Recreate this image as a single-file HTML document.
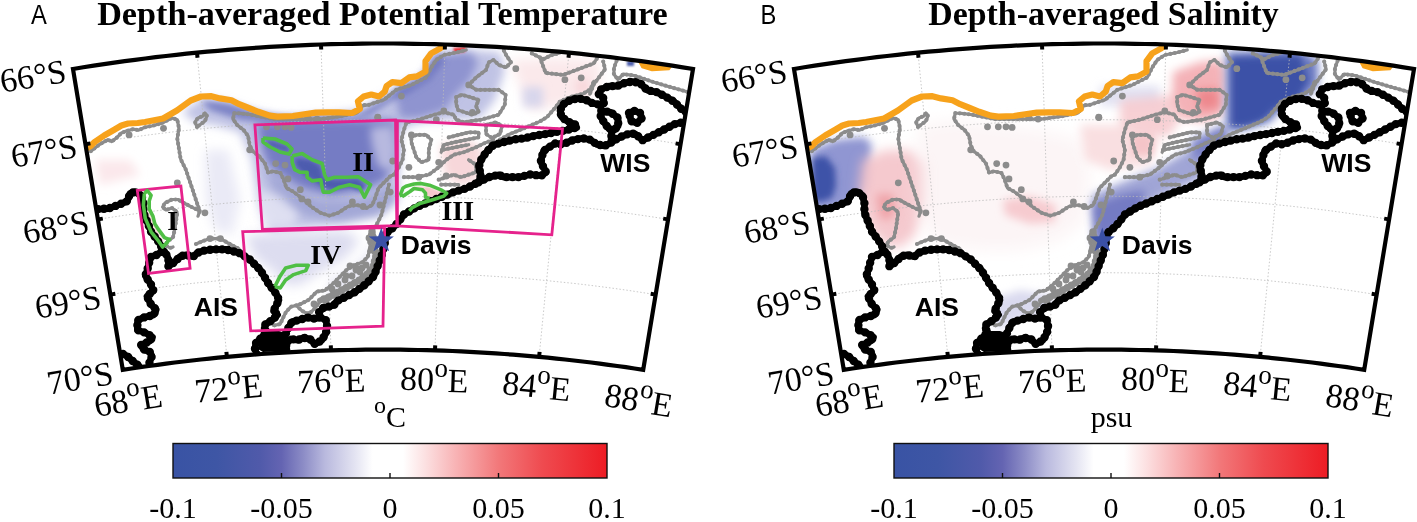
<!DOCTYPE html>
<html><head><meta charset="utf-8"><style>
html,body{margin:0;padding:0;background:#fff;}
svg{display:block;}
.tl{font-family:"Liberation Serif",serif;font-size:34px;fill:#000;}
.sup{font-size:27px;}
.cb{font-family:"Liberation Serif",serif;font-size:30px;fill:#000;}
.unit{font-family:"Liberation Serif",serif;font-size:30px;fill:#000;}
.title{font-family:"Liberation Serif",serif;font-weight:bold;font-size:34px;fill:#000;}
.rn{font-family:"Liberation Serif",serif;font-weight:bold;font-size:28px;fill:#000;}
.nm{font-family:"Liberation Sans",sans-serif;font-weight:bold;font-size:26.5px;fill:#000;}
.plab{font-family:"Liberation Sans",sans-serif;font-size:27px;fill:#000;}
</style></head><body>
<svg width="1417" height="522" viewBox="0 0 1417 522">
<defs><linearGradient id="cbg" x1="0" x2="1" y1="0" y2="0"><stop offset="0" stop-color="rgb(57,83,164)"/><stop offset="0.1" stop-color="rgb(62,86,165)"/><stop offset="0.2" stop-color="rgb(80,90,170)"/><stop offset="0.25" stop-color="rgb(100,100,178)"/><stop offset="0.3" stop-color="rgb(140,140,198)"/><stop offset="0.35" stop-color="rgb(185,185,222)"/><stop offset="0.42" stop-color="rgb(228,228,242)"/><stop offset="0.46" stop-color="#fff"/><stop offset="0.53" stop-color="#fff"/><stop offset="0.58" stop-color="rgb(252,225,226)"/><stop offset="0.65" stop-color="rgb(248,180,182)"/><stop offset="0.75" stop-color="rgb(242,120,122)"/><stop offset="0.85" stop-color="rgb(239,75,80)"/><stop offset="1" stop-color="rgb(237,28,36)"/></linearGradient></defs>
<text class="plab" transform="translate(31 24.4) scale(0.88 1.04)" x="0" y="0">A</text>
<text class="plab" transform="translate(760.6 24.2) scale(0.88 1.04)" x="0" y="0">B</text>
<text class="title" x="97.2" y="25.1" textLength="570.5" lengthAdjust="spacingAndGlyphs">Depth-averaged Potential Temperature</text>
<text class="title" x="928.3" y="25.1" textLength="350.5" lengthAdjust="spacingAndGlyphs">Depth-averaged Salinity</text>
<clipPath id="clipA"><path d="M73.0,69.0 L83.3,67.3 L93.7,65.7 L104.0,64.2 L114.3,62.7 L124.7,61.2 L135.0,59.8 L145.3,58.5 L155.7,57.2 L166.0,56.0 L176.3,54.8 L186.7,53.7 L197.0,52.7 L207.3,51.7 L217.7,50.8 L228.0,49.9 L238.3,49.1 L248.7,48.3 L259.0,47.6 L269.3,46.9 L279.7,46.3 L290.0,45.8 L300.3,45.3 L310.7,44.9 L321.0,44.5 L331.3,44.2 L341.7,44.0 L352.0,43.8 L362.3,43.6 L372.7,43.5 L383.0,43.5 L393.3,43.5 L403.7,43.6 L414.0,43.8 L424.3,44.0 L434.7,44.2 L445.0,44.5 L455.3,44.9 L465.7,45.3 L476.0,45.8 L486.3,46.3 L496.7,46.9 L507.0,47.6 L517.3,48.3 L527.7,49.1 L538.0,49.9 L548.3,50.8 L558.7,51.7 L569.0,52.7 L579.3,53.7 L589.7,54.8 L600.0,56.0 L610.3,57.2 L620.7,58.5 L631.0,59.8 L641.3,61.2 L651.7,62.7 L662.0,64.2 L672.3,65.7 L682.7,67.3 L693.0,69.0 L643.2,369.8 L634.5,368.5 L625.9,367.2 L617.2,366.0 L608.5,364.8 L599.8,363.6 L591.2,362.5 L582.5,361.5 L573.8,360.5 L565.1,359.5 L556.5,358.6 L547.8,357.7 L539.1,356.9 L530.4,356.1 L521.8,355.3 L513.1,354.7 L504.4,354.0 L495.8,353.4 L487.1,352.8 L478.4,352.3 L469.7,351.8 L461.1,351.4 L452.4,351.0 L443.7,350.7 L435.0,350.4 L426.4,350.2 L417.7,350.0 L409.0,349.8 L400.3,349.7 L391.7,349.6 L383.0,349.6 L374.3,349.6 L365.7,349.7 L357.0,349.8 L348.3,350.0 L339.6,350.2 L331.0,350.4 L322.3,350.7 L313.6,351.0 L304.9,351.4 L296.3,351.8 L287.6,352.3 L278.9,352.8 L270.2,353.4 L261.6,354.0 L252.9,354.7 L244.2,355.3 L235.6,356.1 L226.9,356.9 L218.2,357.7 L209.5,358.6 L200.9,359.5 L192.2,360.5 L183.5,361.5 L174.8,362.5 L166.2,363.6 L157.5,364.8 L148.8,366.0 L140.1,367.2 L131.5,368.5 L122.8,369.8 Z"/></clipPath>
<g clip-path="url(#clipA)">
<filter id="blA0" x="-50%" y="-50%" width="200%" height="200%"><feGaussianBlur stdDeviation="5"/></filter>
<path d="M182.0,112.0 L200.0,100.0 L220.0,100.0 L250.0,110.0 L280.0,118.0 L330.0,114.0 L360.0,110.0 L380.0,98.0 L400.0,86.0 L425.0,75.0 L432.0,55.0 L470.0,50.0 L500.0,52.0 L505.0,70.0 L495.0,100.0 L480.0,118.0 L420.0,122.0 L400.0,130.0 L398.0,200.0 L380.0,215.0 L330.0,225.0 L270.0,232.0 L258.0,200.0 L252.0,160.0 L240.0,132.0 L215.0,125.0 L195.0,122.0 Z" fill="rgb(165, 170, 218)" fill-opacity="0.7" filter="url(#blA0)"/>
<filter id="blA1" x="-50%" y="-50%" width="200%" height="200%"><feGaussianBlur stdDeviation="4"/></filter>
<path d="M395.0,90.0 L410.0,84.0 L428.0,74.0 L436.0,58.0 L450.0,53.0 L470.0,52.0 L478.0,62.0 L470.0,80.0 L455.0,95.0 L445.0,110.0 L420.0,118.0 L400.0,118.0 Z" fill="rgb(125, 132, 200)" fill-opacity="0.75" filter="url(#blA1)"/>
<filter id="blA2" x="-50%" y="-50%" width="200%" height="200%"><feGaussianBlur stdDeviation="5"/></filter>
<path d="M256.0,124.0 L300.0,120.0 L350.0,119.0 L395.0,120.0 L396.0,160.0 L385.0,180.0 L365.0,190.0 L330.0,196.0 L300.0,188.0 L280.0,175.0 L268.0,165.0 L262.0,150.0 Z" fill="rgb(105, 112, 190)" fill-opacity="0.85" filter="url(#blA2)"/>
<filter id="blA3" x="-50%" y="-50%" width="200%" height="200%"><feGaussianBlur stdDeviation="5"/></filter>
<path d="M265.0,165.0 L290.0,185.0 L320.0,200.0 L360.0,200.0 L390.0,185.0 L396.0,200.0 L380.0,215.0 L340.0,222.0 L300.0,215.0 L275.0,200.0 Z" fill="rgb(150, 155, 208)" fill-opacity="0.7" filter="url(#blA3)"/>
<filter id="blA4" x="-50%" y="-50%" width="200%" height="200%"><feGaussianBlur stdDeviation="3"/></filter>
<path d="M200.0,100.0 L230.0,103.0 L260.0,113.0 L300.0,117.0 L350.0,117.0 L365.0,110.0 L385.0,98.0 L400.0,88.0 L420.0,78.0 L430.0,62.0 L440.0,52.0 L445.0,60.0 L430.0,80.0 L410.0,92.0 L390.0,102.0 L370.0,115.0 L330.0,122.0 L280.0,124.0 L240.0,120.0 L210.0,110.0 Z" fill="rgb(95, 105, 185)" fill-opacity="0.7" filter="url(#blA4)"/>
<filter id="blA5" x="-50%" y="-50%" width="200%" height="200%"><feGaussianBlur stdDeviation="4"/></filter>
<path d="M370.0,128.0 L392.0,125.0 L396.0,150.0 L392.0,172.0 L378.0,166.0 L372.0,145.0 Z" fill="rgb(205, 205, 232)" fill-opacity="0.75" filter="url(#blA5)"/>
<filter id="blA6" x="-50%" y="-50%" width="200%" height="200%"><feGaussianBlur stdDeviation="5"/></filter>
<path d="M256.0,190.0 L280.0,195.0 L300.0,215.0 L290.0,228.0 L262.0,228.0 Z" fill="rgb(235, 235, 246)" fill-opacity="0.7" filter="url(#blA6)"/>
<filter id="blA7" x="-50%" y="-50%" width="200%" height="200%"><feGaussianBlur stdDeviation="2"/></filter>
<path d="M266.0,140.0 L288.0,147.0 L289.0,152.0 L270.0,146.0 Z" fill="rgb(70, 85, 170)" fill-opacity="0.9" filter="url(#blA7)"/>
<filter id="blA8" x="-50%" y="-50%" width="200%" height="200%"><feGaussianBlur stdDeviation="2"/></filter>
<path d="M295.0,158.0 L310.0,160.0 L320.0,166.0 L323.0,178.0 L335.0,180.0 L358.0,179.0 L366.0,186.0 L362.0,192.0 L350.0,187.0 L330.0,190.0 L320.0,185.0 L305.0,175.0 L296.0,166.0 Z" fill="rgb(70, 85, 170)" fill-opacity="0.85" filter="url(#blA8)"/>
<filter id="blA9" x="-50%" y="-50%" width="200%" height="200%"><feGaussianBlur stdDeviation="6"/></filter>
<path d="M245.0,235.0 L300.0,232.0 L345.0,231.0 L360.0,240.0 L345.0,258.0 L320.0,272.0 L300.0,285.0 L285.0,285.0 L272.0,270.0 L255.0,258.0 Z" fill="rgb(212, 212, 236)" fill-opacity="0.8" filter="url(#blA9)"/>
<filter id="blA10" x="-50%" y="-50%" width="200%" height="200%"><feGaussianBlur stdDeviation="4"/></filter>
<path d="M330.0,280.0 L350.0,268.0 L365.0,255.0 L370.0,240.0 L372.0,262.0 L360.0,280.0 L340.0,292.0 L325.0,298.0 Z" fill="rgb(225, 225, 242)" fill-opacity="0.7" filter="url(#blA10)"/>
<filter id="blA11" x="-50%" y="-50%" width="200%" height="200%"><feGaussianBlur stdDeviation="6"/></filter>
<path d="M205.0,150.0 L228.0,150.0 L240.0,200.0 L232.0,235.0 L215.0,230.0 L206.0,200.0 Z" fill="rgb(220, 220, 240)" fill-opacity="0.6" filter="url(#blA11)"/>
<filter id="blA12" x="-50%" y="-50%" width="200%" height="200%"><feGaussianBlur stdDeviation="1.5"/></filter>
<path d="M147.0,200.0 L150.0,212.0 L155.0,226.0 L162.0,238.0 L164.0,243.0 L160.0,240.0 L152.0,228.0 L147.0,215.0 Z" fill="rgb(246, 200, 205)" fill-opacity="0.9" filter="url(#blA12)"/>
<filter id="blA13" x="-50%" y="-50%" width="200%" height="200%"><feGaussianBlur stdDeviation="5"/></filter>
<path d="M95.0,160.0 L130.0,160.0 L140.0,175.0 L100.0,185.0 Z" fill="rgb(250, 222, 226)" fill-opacity="0.7" filter="url(#blA13)"/>
<filter id="blA14" x="-50%" y="-50%" width="200%" height="200%"><feGaussianBlur stdDeviation="4"/></filter>
<path d="M440.0,145.0 L470.0,140.0 L482.0,150.0 L478.0,180.0 L460.0,185.0 L445.0,175.0 Z" fill="rgb(246, 208, 212)" fill-opacity="0.85" filter="url(#blA14)"/>
<filter id="blA15" x="-50%" y="-50%" width="200%" height="200%"><feGaussianBlur stdDeviation="1"/></filter>
<path d="M414.0,186.5 L429.5,187.0 L443.9,193.2 L435.0,197.5 L427.0,198.0 L425.5,193.2 L422.6,189.8 L414.0,189.2 Z" fill="rgb(246, 196, 202)" fill-opacity="0.95" filter="url(#blA15)"/>
<filter id="blA16" x="-50%" y="-50%" width="200%" height="200%"><feGaussianBlur stdDeviation="6"/></filter>
<path d="M510.0,60.0 L560.0,58.0 L600.0,60.0 L600.0,85.0 L565.0,105.0 L530.0,110.0 L520.0,85.0 Z" fill="rgb(250, 228, 230)" fill-opacity="0.8" filter="url(#blA16)"/>
<filter id="blA17" x="-50%" y="-50%" width="200%" height="200%"><feGaussianBlur stdDeviation="4"/></filter>
<path d="M523.0,87.0 L543.0,87.0 L543.0,107.0 L523.0,107.0 Z" fill="rgb(212, 212, 236)" fill-opacity="0.9" filter="url(#blA17)"/>
<filter id="blA18" x="-50%" y="-50%" width="200%" height="200%"><feGaussianBlur stdDeviation="4"/></filter>
<path d="M576.0,80.0 L590.0,80.0 L590.0,95.0 L576.0,95.0 Z" fill="rgb(246, 205, 210)" fill-opacity="0.7" filter="url(#blA18)"/>
<filter id="blA19" x="-50%" y="-50%" width="200%" height="200%"><feGaussianBlur stdDeviation="1.2"/></filter>
<path d="M627.0,61.0 L634.0,61.0 L634.0,66.0 L627.0,66.0 Z" fill="rgb(58, 80, 165)" fill-opacity="0.9" filter="url(#blA19)"/>
<filter id="blA20" x="-50%" y="-50%" width="200%" height="200%"><feGaussianBlur stdDeviation="1.2"/></filter>
<path d="M453.0,48.0 L466.0,47.0 L465.0,52.0 L455.0,53.0 Z" fill="rgb(237, 40, 45)" fill-opacity="0.95" filter="url(#blA20)"/>
<path d="M386.4,233.0 L392.2,228.4 L398.0,222.6 L403.9,214.6 L416.3,207.1 L428.8,202.1 L441.2,197.1 L453.7,192.1 L466.1,188.4 L478.6,182.2 L481.1,174.7 L478.6,167.3 L481.1,159.8 L486.1,152.3 L493.5,144.9 L503.5,142.2 L514.2,139.5 L524.9,138.2 L535.7,135.5 L547.7,133.7 L555.3,132.1 L564.5,130.6 L570.7,129.1 L576.8,127.5 L575.3,124.5 L567.6,121.4 L561.5,116.8 L560.0,110.7 L563.0,104.5 L570.7,99.9 L578.3,98.4 L586.0,99.9 L592.1,103.0 L598.3,104.5 L604.4,103.0 L602.9,96.9 L598.3,93.8 L601.3,89.2 L609.0,86.1 L616.7,86.1 L624.4,83.1 L632.0,81.5 L640.0,83.1 L647.3,90.2 L656.9,92.2 L664.5,96.0 L674.1,101.7 L681.8,109.4 L692.0,113.0 L705.0,113.0 L705.0,400.0 L285.0,400.0 L285.0,360.0 L284.3,348.3 L283.0,344.3 L284.3,337.6 L287.0,330.8 L289.6,325.5 L292.3,321.5 L299.0,320.1 L307.0,317.4 L315.1,318.8 L320.5,317.4 L319.1,312.1 L323.2,308.0 L333.9,305.4 L336.5,301.4 L347.2,296.0 L355.2,292.0 L366.0,284.0 L374.0,276.0 L378.0,265.2 L382.0,254.5 L384.7,243.8 Z M162.6,251.0 L164.5,251.0 L168.4,258.6 L168.4,266.3 L174.1,262.5 L179.9,256.7 L185.6,254.8 L193.3,256.7 L197.1,252.9 L204.5,250.5 L212.6,249.4 L226.0,249.4 L239.0,252.8 L249.7,259.5 L260.5,270.2 L268.5,283.7 L276.6,294.4 L279.0,300.0 L275.0,308.0 L273.5,311.0 L277.6,314.8 L272.2,320.1 L265.5,324.1 L264.1,328.2 L266.8,332.2 L261.5,337.6 L256.1,342.9 L254.8,348.3 L258.0,380.0 L140.0,380.0 L148.8,370.0 L149.5,362.0 L152.0,356.0 L150.0,352.0 L143.0,349.0 L141.0,345.0 L150.0,341.0 L152.5,337.0 L146.0,333.0 L137.3,330.0 L137.5,320.4 L142.9,317.7 L153.6,315.0 L156.3,309.7 L150.9,304.3 L146.9,296.3 L153.6,290.9 L150.9,284.2 L145.3,275.9 L147.3,270.1 L149.2,262.5 L151.1,256.7 L156.9,254.8 Z M80.0,209.5 L98.8,209.1 L108.0,208.6 L119.5,204.5 L127.5,201.0 L130.0,193.4 L135.8,191.5 L141.5,195.3 L143.4,203.0 L143.4,212.6 L147.3,222.2 L151.1,231.8 L156.9,239.5 L160.7,245.2 L162.6,251.0 L156.9,254.8 L151.1,256.7 L149.2,262.5 L147.3,270.1 L145.3,275.9 L150.9,284.2 L153.6,290.9 L146.9,296.3 L150.9,304.3 L156.3,309.7 L153.6,315.0 L142.9,317.7 L137.5,320.4 L137.3,330.0 L146.0,333.0 L152.5,337.0 L150.0,341.0 L141.0,345.0 L143.0,349.0 L150.0,352.0 L152.0,356.0 L149.5,362.0 L148.8,370.0 L140.0,390.0 L80.0,390.0 Z" fill="#fff"/>
</g>
<g clip-path="url(#clipA)">
<path d="M197.0,52.7 L226.9,356.9 M321.0,44.5 L331.0,350.4 M445.0,44.5 L435.0,350.4 M569.0,52.7 L539.1,356.9 M85.5,144.2 L100.3,141.8 L115.2,139.5 L130.1,137.4 L145.0,135.4 L159.8,133.5 L174.7,131.7 L189.6,130.1 L204.5,128.5 L219.3,127.1 L234.2,125.8 L249.1,124.7 L264.0,123.6 L278.9,122.7 L293.7,121.9 L308.6,121.2 L323.5,120.7 L338.4,120.3 L353.2,119.9 L368.1,119.8 L383.0,119.7 L397.9,119.8 L412.8,119.9 L427.6,120.3 L442.5,120.7 L457.4,121.2 L472.3,121.9 L487.1,122.7 L502.0,123.6 L516.9,124.7 L531.8,125.8 L546.7,127.1 L561.5,128.5 L576.4,130.1 L591.3,131.7 L606.2,133.5 L621.0,135.4 L635.9,137.4 L650.8,139.5 L665.7,141.8 L680.5,144.2 M97.9,219.4 L112.2,217.1 L126.4,215.0 L140.7,213.0 L154.9,211.0 L169.2,209.2 L183.4,207.6 L197.7,206.0 L211.9,204.6 L226.2,203.2 L240.5,202.0 L254.7,200.9 L269.0,199.9 L283.2,199.0 L297.5,198.3 L311.7,197.6 L326.0,197.1 L340.2,196.7 L354.5,196.4 L368.7,196.3 L383.0,196.2 L397.3,196.3 L411.5,196.4 L425.8,196.7 L440.0,197.1 L454.3,197.6 L468.5,198.3 L482.8,199.0 L497.0,199.9 L511.3,200.9 L525.6,202.0 L539.8,203.2 L554.1,204.6 L568.3,206.0 L582.6,207.6 L596.8,209.2 L611.1,211.0 L625.3,213.0 L639.6,215.0 L653.8,217.1 L668.1,219.4 M110.3,294.6 L124.0,292.5 L137.6,290.4 L151.2,288.5 L164.9,286.7 L178.5,285.0 L192.1,283.4 L205.8,282.0 L219.4,280.6 L233.0,279.3 L246.7,278.2 L260.3,277.1 L273.9,276.2 L287.6,275.4 L301.2,274.7 L314.8,274.1 L328.5,273.6 L342.1,273.2 L355.7,272.9 L369.4,272.8 L383.0,272.7 L396.6,272.8 L410.3,272.9 L423.9,273.2 L437.5,273.6 L451.2,274.1 L464.8,274.7 L478.4,275.4 L492.1,276.2 L505.7,277.1 L519.3,278.2 L533.0,279.3 L546.6,280.6 L560.2,282.0 L573.9,283.4 L587.5,285.0 L601.1,286.7 L614.8,288.5 L628.4,290.4 L642.0,292.5 L655.6,294.6" fill="none" stroke="#bbb" stroke-width="0.8" stroke-dasharray="1.5,2"/>
<path d="M90.8,151.2 L99.4,144.5 L108.0,139.7 L111.8,141.6 L116.6,137.8 L121.4,133.0 L126.2,131.1 L133.0,129.2 L138.7,130.1 L145.0,127.3 L152.8,125.7 L161.8,123.1 L168.0,120.0 L172.1,117.9 L177.3,119.7 L179.0,128.3 L177.3,138.6 L179.0,149.0 L180.7,159.3 L185.9,169.7 L189.3,180.0 L192.8,190.3 L196.2,200.7 L199.7,211.0 L198.0,216.2 M199.7,211.0 L192.8,207.6 L184.0,203.0 L178.0,199.5 L172.0,199.5 L165.0,203.0 L162.6,207.0 L166.0,210.0 L172.0,208.0 L177.0,212.0 L177.0,214.5 L175.0,228.0 L173.0,237.5 L167.4,241.4 L165.4,245.2 L170.0,248.0 L173.0,247.0 M196.0,244.0 L203.0,241.0 L210.0,238.6 L220.4,238.6 L228.0,243.0 L239.0,249.0 M234.3,113.0 L243.0,113.7 L249.7,114.5 L274.2,119.1 L295.7,119.1 L320.2,119.1 L341.7,116.1 L357.0,113.0 L363.1,105.3 L369.0,104.8 L384.0,99.8 L396.4,89.8 L411.4,84.9 L426.3,77.4 L431.3,67.4 L436.3,59.9 L443.8,55.0 L456.2,52.5 L466.2,50.0 M234.3,113.0 L233.0,119.1 L237.4,125.3 L243.5,129.9 L248.1,136.0 L249.7,145.2 L252.7,151.3 L258.9,155.9 L265.0,163.6 L268.1,172.8 L272.7,171.3 L280.3,172.8 L283.4,178.9 L286.5,188.1 L292.6,191.2 L298.7,195.8 L304.9,200.4 L311.0,206.5 L320.2,212.7 L329.4,215.7 L338.6,212.7 L347.8,206.5 L357.0,205.0 L366.2,208.1 L372.3,205.0 L375.4,197.3 L378.5,188.1 L384.6,182.0 L390.7,175.9 L393.9,174.7 L398.9,167.3 L402.6,159.8 L403.9,149.8 L401.4,139.9 L403.9,129.9 L406.4,122.4 L418.8,119.7 L433.8,114.8 L443.8,112.3 L453.7,114.8 L456.2,119.7 L463.7,122.2 L481.1,119.7 L498.6,114.8 L504.8,104.8 L505.6,94.8 L498.6,89.8 L486.1,89.8 L476.2,89.8 L468.7,84.9 L476.2,77.4 L486.1,69.9 L488.6,62.4 L493.6,59.9 L498.6,64.9 L506.1,67.4 L511.0,62.4 L506.1,55.0 L503.6,50.0 M388.9,184.7 L386.5,194.6 L384.0,204.6 L381.5,214.6 L378.0,222.0 L373.2,230.0 L367.8,238.0 L370.5,246.1 L367.8,256.8 L362.4,262.2 L354.4,264.9 L346.3,270.2 L338.3,278.3 L332.9,283.7 L324.9,290.4 L316.8,291.7 L308.8,299.8 L300.7,304.0 L296.3,305.4 L291.0,306.7 L286.0,312.0 L283.0,318.0 L280.2,324.1 L273.5,325.5 M296.3,305.4 L301.7,310.7 L307.0,313.4 L311.1,312.1 L315.1,308.0 L319.1,302.7 M456.2,97.0 L462.0,94.8 L470.0,97.0 L478.7,100.0 L476.0,106.0 L478.7,112.0 L472.0,114.8 L464.0,112.0 L458.0,110.0 L456.2,104.0 L456.2,97.0 M411.4,137.4 L416.3,134.9 L426.3,134.9 L431.3,139.9 L428.8,149.8 L428.8,159.8 L421.3,162.3 L416.3,157.3 L413.8,149.8 L411.4,142.4 L411.4,137.4 M403.9,177.2 L416.3,177.2 L428.8,174.7 L438.7,167.3 L446.2,159.8 L453.7,154.8 L463.6,152.3 L476.1,147.3 L486.1,142.4 L493.5,139.9 M448.7,137.4 L458.7,134.9 L468.6,132.4 L478.6,132.4 L478.6,137.4 L466.1,139.9 L453.7,142.4 L443.7,144.9 L441.2,152.3 M438.7,179.7 L446.2,177.2 L453.7,174.7 L461.2,177.2 L468.6,174.7 L476.1,172.2 L476.1,164.8 L468.6,159.8 M441.2,184.7 L451.2,184.7 L458.7,184.7 M486.1,124.9 L496.0,122.4 L502.0,126.0 L500.0,134.0 L492.0,138.0 L486.0,134.0 L486.1,124.9 M443.8,149.6 L456.2,147.1 L468.7,144.7 M197.0,127.0 L195.0,122.0 L198.0,118.0 L203.0,116.0 L205.0,113.0 L207.0,116.0 L205.0,121.0 L201.0,124.0 L197.0,127.0 M531.8,53.4 L543.3,59.2 L551.0,55.3 L560.0,53.0 M540.0,57.7 L545.7,73.0 L563.0,74.9 L578.3,69.2 L593.7,63.4 L597.5,57.7 M603.2,61.5 L605.1,69.2 L599.4,76.8 L593.7,84.5 L589.8,94.1 M616.6,60.8 L614.0,68.0 L613.9,74.2 L617.9,79.5 L623.3,74.2 L634.0,75.5 L654.0,82.2 L670.0,87.0 L688.0,92.0 M500.0,139.7 L510.0,134.0 L524.2,128.2 L540.0,121.4 L547.1,117.0 L555.3,107.6 L560.0,101.5 L570.7,96.9 L583.0,93.8 L590.6,89.2 L593.7,81.5" fill="none" stroke="#8c8c8c" stroke-width="3.2" stroke-linejoin="round" stroke-linecap="round"/>
<path d="M90.8,151.2 L99.4,144.5 L108.0,139.7 L111.8,141.6 L116.6,137.8 L121.4,133.0 L126.2,131.1 L133.0,129.2 L138.7,130.1 L145.0,127.3 L152.8,125.7 L161.8,123.1 L168.0,120.0 L172.1,117.9 L177.3,119.7 L179.0,128.3 L177.3,138.6 L179.0,149.0 L180.7,159.3 L185.9,169.7 L189.3,180.0 L192.8,190.3 L196.2,200.7 L199.7,211.0 L198.0,216.2 M199.7,211.0 L192.8,207.6 L184.0,203.0 L178.0,199.5 L172.0,199.5 L165.0,203.0 L162.6,207.0 L166.0,210.0 L172.0,208.0 L177.0,212.0 L177.0,214.5 L175.0,228.0 L173.0,237.5 L167.4,241.4 L165.4,245.2 L170.0,248.0 L173.0,247.0 M196.0,244.0 L203.0,241.0 L210.0,238.6 L220.4,238.6 L228.0,243.0 L239.0,249.0 M234.3,113.0 L243.0,113.7 L249.7,114.5 L274.2,119.1 L295.7,119.1 L320.2,119.1 L341.7,116.1 L357.0,113.0 L363.1,105.3 L369.0,104.8 L384.0,99.8 L396.4,89.8 L411.4,84.9 L426.3,77.4 L431.3,67.4 L436.3,59.9 L443.8,55.0 L456.2,52.5 L466.2,50.0 M234.3,113.0 L233.0,119.1 L237.4,125.3 L243.5,129.9 L248.1,136.0 L249.7,145.2 L252.7,151.3 L258.9,155.9 L265.0,163.6 L268.1,172.8 L272.7,171.3 L280.3,172.8 L283.4,178.9 L286.5,188.1 L292.6,191.2 L298.7,195.8 L304.9,200.4 L311.0,206.5 L320.2,212.7 L329.4,215.7 L338.6,212.7 L347.8,206.5 L357.0,205.0 L366.2,208.1 L372.3,205.0 L375.4,197.3 L378.5,188.1 L384.6,182.0 L390.7,175.9 L393.9,174.7 L398.9,167.3 L402.6,159.8 L403.9,149.8 L401.4,139.9 L403.9,129.9 L406.4,122.4 L418.8,119.7 L433.8,114.8 L443.8,112.3 L453.7,114.8 L456.2,119.7 L463.7,122.2 L481.1,119.7 L498.6,114.8 L504.8,104.8 L505.6,94.8 L498.6,89.8 L486.1,89.8 L476.2,89.8 L468.7,84.9 L476.2,77.4 L486.1,69.9 L488.6,62.4 L493.6,59.9 L498.6,64.9 L506.1,67.4 L511.0,62.4 L506.1,55.0 L503.6,50.0 M388.9,184.7 L386.5,194.6 L384.0,204.6 L381.5,214.6 L378.0,222.0 L373.2,230.0 L367.8,238.0 L370.5,246.1 L367.8,256.8 L362.4,262.2 L354.4,264.9 L346.3,270.2 L338.3,278.3 L332.9,283.7 L324.9,290.4 L316.8,291.7 L308.8,299.8 L300.7,304.0 L296.3,305.4 L291.0,306.7 L286.0,312.0 L283.0,318.0 L280.2,324.1 L273.5,325.5 M296.3,305.4 L301.7,310.7 L307.0,313.4 L311.1,312.1 L315.1,308.0 L319.1,302.7 M456.2,97.0 L462.0,94.8 L470.0,97.0 L478.7,100.0 L476.0,106.0 L478.7,112.0 L472.0,114.8 L464.0,112.0 L458.0,110.0 L456.2,104.0 L456.2,97.0 M411.4,137.4 L416.3,134.9 L426.3,134.9 L431.3,139.9 L428.8,149.8 L428.8,159.8 L421.3,162.3 L416.3,157.3 L413.8,149.8 L411.4,142.4 L411.4,137.4 M403.9,177.2 L416.3,177.2 L428.8,174.7 L438.7,167.3 L446.2,159.8 L453.7,154.8 L463.6,152.3 L476.1,147.3 L486.1,142.4 L493.5,139.9 M448.7,137.4 L458.7,134.9 L468.6,132.4 L478.6,132.4 L478.6,137.4 L466.1,139.9 L453.7,142.4 L443.7,144.9 L441.2,152.3 M438.7,179.7 L446.2,177.2 L453.7,174.7 L461.2,177.2 L468.6,174.7 L476.1,172.2 L476.1,164.8 L468.6,159.8 M441.2,184.7 L451.2,184.7 L458.7,184.7 M486.1,124.9 L496.0,122.4 L502.0,126.0 L500.0,134.0 L492.0,138.0 L486.0,134.0 L486.1,124.9 M443.8,149.6 L456.2,147.1 L468.7,144.7 M197.0,127.0 L195.0,122.0 L198.0,118.0 L203.0,116.0 L205.0,113.0 L207.0,116.0 L205.0,121.0 L201.0,124.0 L197.0,127.0 M531.8,53.4 L543.3,59.2 L551.0,55.3 L560.0,53.0 M540.0,57.7 L545.7,73.0 L563.0,74.9 L578.3,69.2 L593.7,63.4 L597.5,57.7 M603.2,61.5 L605.1,69.2 L599.4,76.8 L593.7,84.5 L589.8,94.1 M616.6,60.8 L614.0,68.0 L613.9,74.2 L617.9,79.5 L623.3,74.2 L634.0,75.5 L654.0,82.2 L670.0,87.0 L688.0,92.0 M500.0,139.7 L510.0,134.0 L524.2,128.2 L540.0,121.4 L547.1,117.0 L555.3,107.6 L560.0,101.5 L570.7,96.9 L583.0,93.8 L590.6,89.2 L593.7,81.5" fill="none" stroke="#8c8c8c" stroke-width="4.2" stroke-dasharray="0 4.5" stroke-linecap="round"/>
<path d="M372.0,232.0 L374.5,245.0 L376.0,256.0 L373.0,267.0 L366.0,275.5 L358.0,281.0 L350.0,285.5 L342.0,290.0 L335.0,294.0 L328.0,297.5 L320.0,300.5" fill="none" stroke="#8c8c8c" stroke-width="6" stroke-linejoin="round" stroke-linecap="round"/>
<path d="M372.0,232.0 L374.5,245.0 L376.0,256.0 L373.0,267.0 L366.0,275.5 L358.0,281.0 L350.0,285.5 L342.0,290.0 L335.0,294.0 L328.0,297.5 L320.0,300.5" fill="none" stroke="#8c8c8c" stroke-width="7.5" stroke-dasharray="0 5" stroke-linecap="round"/>
<circle cx="129.1" cy="134.9" r="3.4" fill="#8c8c8c"/>
<circle cx="163.5" cy="128.3" r="3.4" fill="#8c8c8c"/>
<circle cx="177.3" cy="182.8" r="3.4" fill="#8c8c8c"/>
<circle cx="266.5" cy="126.8" r="3.4" fill="#8c8c8c"/>
<circle cx="277.3" cy="126.8" r="3.4" fill="#8c8c8c"/>
<circle cx="285" cy="126.8" r="3.4" fill="#8c8c8c"/>
<circle cx="291.1" cy="127.4" r="3.4" fill="#8c8c8c"/>
<circle cx="308" cy="117.6" r="3.4" fill="#8c8c8c"/>
<circle cx="317.1" cy="119.1" r="3.4" fill="#8c8c8c"/>
<circle cx="377.9" cy="117.6" r="3.4" fill="#8c8c8c"/>
<circle cx="249.7" cy="149.8" r="3.4" fill="#8c8c8c"/>
<circle cx="275.7" cy="163.6" r="3.4" fill="#8c8c8c"/>
<circle cx="285" cy="165.1" r="3.4" fill="#8c8c8c"/>
<circle cx="288" cy="178.9" r="3.4" fill="#8c8c8c"/>
<circle cx="300.3" cy="189.7" r="3.4" fill="#8c8c8c"/>
<circle cx="301.8" cy="198.9" r="3.4" fill="#8c8c8c"/>
<circle cx="308" cy="201.9" r="3.4" fill="#8c8c8c"/>
<circle cx="352.4" cy="201.9" r="3.4" fill="#8c8c8c"/>
<circle cx="363.1" cy="206.5" r="3.4" fill="#8c8c8c"/>
<circle cx="380" cy="205" r="3.4" fill="#8c8c8c"/>
<circle cx="401.4" cy="96.1" r="3.4" fill="#8c8c8c"/>
<circle cx="377.7" cy="117.2" r="3.4" fill="#8c8c8c"/>
<circle cx="436.3" cy="119.7" r="3.4" fill="#8c8c8c"/>
<circle cx="443.8" cy="111" r="3.4" fill="#8c8c8c"/>
<circle cx="472.4" cy="112.3" r="3.4" fill="#8c8c8c"/>
<circle cx="515.8" cy="68.7" r="3.4" fill="#8c8c8c"/>
<circle cx="468.7" cy="84.9" r="3.4" fill="#8c8c8c"/>
<circle cx="411.4" cy="134.9" r="3.4" fill="#8c8c8c"/>
<circle cx="408.9" cy="167.3" r="3.4" fill="#8c8c8c"/>
<circle cx="438.7" cy="162.3" r="3.4" fill="#8c8c8c"/>
<circle cx="446.2" cy="176" r="3.4" fill="#8c8c8c"/>
<circle cx="418.8" cy="177.2" r="3.4" fill="#8c8c8c"/>
<circle cx="392.7" cy="161" r="3.4" fill="#8c8c8c"/>
<circle cx="390.2" cy="192.1" r="3.4" fill="#8c8c8c"/>
<circle cx="564.9" cy="79.7" r="3.4" fill="#8c8c8c"/>
<circle cx="581.2" cy="77.8" r="3.4" fill="#8c8c8c"/>
<circle cx="204.9" cy="212.8" r="3.4" fill="#8c8c8c"/>
<circle cx="210" cy="238.6" r="3.4" fill="#8c8c8c"/>
<circle cx="220.4" cy="238.6" r="3.4" fill="#8c8c8c"/>
<circle cx="350" cy="266" r="3.4" fill="#8c8c8c"/>
<circle cx="356" cy="270" r="3.4" fill="#8c8c8c"/>
<circle cx="362" cy="268" r="3.4" fill="#8c8c8c"/>
<circle cx="346" cy="276" r="3.4" fill="#8c8c8c"/>
<circle cx="352" cy="276" r="3.4" fill="#8c8c8c"/>
<circle cx="345" cy="280" r="3.4" fill="#8c8c8c"/>
<circle cx="360" cy="272" r="3.4" fill="#8c8c8c"/>
<circle cx="366" cy="265" r="3.4" fill="#8c8c8c"/>
<circle cx="338" cy="284" r="3.4" fill="#8c8c8c"/>
<circle cx="356" cy="268" r="3.4" fill="#8c8c8c"/>
<circle cx="371" cy="250" r="3.4" fill="#8c8c8c"/>
<circle cx="369" cy="238" r="3.4" fill="#8c8c8c"/>
<circle cx="326" cy="301" r="3.4" fill="#8c8c8c"/>
<circle cx="314" cy="304" r="3.4" fill="#8c8c8c"/>
<circle cx="332" cy="289" r="3.4" fill="#8c8c8c"/>
<path d="M88.0,147.5 L90.7,146.0 L94.6,142.0 L104.2,135.5 L113.8,130.0 L121.4,125.5 L128.1,123.5 L137.7,123.0 L145.0,122.0 L152.8,120.5 L163.1,118.5 L176.9,110.5 L190.7,100.5 L201.0,96.5 L211.4,96.2 L220.0,98.4 L231.5,100.3 L239.2,104.2 L248.7,108.0 L258.3,111.8 L269.8,115.6 L277.4,116.6 L292.8,116.0 L304.3,114.3 L315.7,112.6 L327.2,112.4 L338.7,112.4 L352.1,113.0 L359.8,109.0 L357.9,101.3 L363.6,96.5 L371.3,94.6 L379.0,96.5 L384.7,91.7 L386.6,86.0 L392.3,82.1 L401.5,83.1 L409.2,77.4 L416.8,76.4 L425.5,71.6 L425.5,61.1 L431.2,53.4 L439.8,48.6 L443.0,46.0" fill="none" stroke="#f7a21b" stroke-width="6.2" stroke-linejoin="round" stroke-linecap="round"/>
<path d="M639.0,62.0 L655.0,63.5 L673.0,64.5 L669.0,69.5 L652.0,70.5 L642.0,67.5 Z" fill="#f7a21b" stroke="#f7a21b" stroke-width="1.5" stroke-linejoin="round"/>
<path d="M92.0,209.5 L98.8,209.1 L108.0,208.6 L119.5,204.5 L127.5,201.0 L130.0,193.4 L135.8,191.5 L141.5,195.3 L143.4,203.0 L143.4,212.6 L147.3,222.2 L151.1,231.8 L156.9,239.5 L160.7,245.2 L162.6,251.0 L156.9,254.8 L151.1,256.7 L149.2,262.5 L147.3,270.1 L145.3,275.9 L150.9,284.2 L153.6,290.9 L146.9,296.3 L150.9,304.3 L156.3,309.7 L153.6,315.0 L142.9,317.7 L137.5,320.4 L137.3,330.0 L146.0,333.0 L152.5,337.0 L150.0,341.0 L141.0,345.0 L143.0,349.0 L150.0,352.0 L152.0,356.0 L149.5,362.0 L148.8,370.0 M123.0,354.0 L127.0,356.0 L131.0,359.5 L135.0,363.0 L139.0,366.0 M162.6,251.0 L164.5,251.0 L168.4,258.6 L168.4,266.3 L174.1,262.5 L179.9,256.7 L185.6,254.8 L193.3,256.7 L197.1,252.9 L204.5,250.5 L212.6,249.4 L226.0,249.4 L239.0,252.8 L249.7,259.5 L260.5,270.2 L268.5,283.7 L276.6,294.4 L279.0,300.0 L275.0,308.0 L273.5,311.0 L277.6,314.8 L272.2,320.1 L265.5,324.1 L264.1,328.2 L266.8,332.2 L261.5,337.6 L256.1,342.9 L254.8,348.3 L257.4,356.0 M323.2,308.0 L333.9,305.4 L336.5,301.4 L347.2,296.0 L355.2,292.0 L366.0,284.0 L374.0,276.0 L378.0,265.2 L382.0,254.5 L384.7,243.8 L386.4,233.0 L392.2,228.4 L398.0,222.6 L403.9,214.6 L416.3,207.1 L428.8,202.1 L441.2,197.1 L453.7,192.1 L466.1,188.4 L478.6,182.2 M323.2,308.0 L319.1,312.1 L320.5,317.4 L315.1,318.8 L307.0,317.4 L299.0,320.1 L292.3,321.5 L289.6,325.5 L287.0,330.8 L284.3,337.6 L283.0,344.3 L284.3,350.0 M320.5,317.4 L325.8,320.1 L327.2,326.8 L325.8,333.5 L321.8,340.2 L315.1,344.3 L309.7,338.9 L303.0,337.6 L297.7,340.2 L291.0,338.9 L285.6,342.9 L287.0,350.0 M478.6,182.2 L481.1,174.7 L478.6,167.3 L481.1,159.8 L486.1,152.3 L493.5,144.9 L503.5,142.2 L514.2,139.5 L524.9,138.2 L535.7,135.5 L547.7,133.7 L555.3,132.1 L564.5,130.6 L570.7,129.1 L576.8,127.5 L575.3,124.5 L567.6,121.4 L561.5,116.8 L560.0,110.7 L563.0,104.5 L570.7,99.9 L578.3,98.4 L586.0,99.9 L592.1,103.0 L598.3,104.5 L604.4,103.0 L602.9,96.9 L598.3,93.8 L601.3,89.2 L609.0,86.1 L616.7,86.1 L624.4,83.1 L632.0,81.5 L640.0,83.1 L647.3,90.2 L656.9,92.2 L664.5,96.0 L674.1,101.7 L681.8,109.4 L687.0,113.0 M478.6,182.2 L488.5,177.2 L499.0,174.7 L503.5,177.1 L519.6,177.1 L530.3,174.4 L541.0,175.8 L546.1,172.4 L540.7,161.7 L543.4,151.0 L551.5,145.6 L556.0,143.0 L560.0,144.4 L566.1,142.9 L573.7,139.8 L582.9,138.3 L590.6,139.8 L596.7,144.4 L604.4,145.9 L610.6,142.9 L615.2,139.8 L621.3,136.7 L629.0,133.7 L635.1,133.7 L642.6,140.2 L653.4,134.9 L664.1,129.5 L674.8,124.1 L686.0,121.5 M601.3,110.7 L610.6,112.2 L618.2,118.3 L618.2,126.0 L613.6,130.6 L609.0,129.1 L604.4,122.9 L600.6,116.8 L601.3,110.7 M612.0,130.0 L611.0,139.8 M629.0,113.0 L634.0,110.7 L640.0,113.0 L642.0,118.0 L637.0,123.0 L631.0,121.0 L629.0,113.0" fill="none" stroke="#000" stroke-width="6.6" stroke-linejoin="round" stroke-linecap="round"/>
<path d="M262.0,334.0 L270.0,331.0 L279.0,331.0 L285.0,333.0 L284.0,340.0 L283.0,346.0 L285.0,351.0 L263.0,352.0 L258.0,349.0 L259.0,342.0 Z" fill="#000"/>
<path d="M92.0,209.5 L98.8,209.1 L108.0,208.6 L119.5,204.5 L127.5,201.0 L130.0,193.4 L135.8,191.5 L141.5,195.3 L143.4,203.0 L143.4,212.6 L147.3,222.2 L151.1,231.8 L156.9,239.5 L160.7,245.2 L162.6,251.0 L156.9,254.8 L151.1,256.7 L149.2,262.5 L147.3,270.1 L145.3,275.9 L150.9,284.2 L153.6,290.9 L146.9,296.3 L150.9,304.3 L156.3,309.7 L153.6,315.0 L142.9,317.7 L137.5,320.4 L137.3,330.0 L146.0,333.0 L152.5,337.0 L150.0,341.0 L141.0,345.0 L143.0,349.0 L150.0,352.0 L152.0,356.0 L149.5,362.0 L148.8,370.0 M123.0,354.0 L127.0,356.0 L131.0,359.5 L135.0,363.0 L139.0,366.0 M162.6,251.0 L164.5,251.0 L168.4,258.6 L168.4,266.3 L174.1,262.5 L179.9,256.7 L185.6,254.8 L193.3,256.7 L197.1,252.9 L204.5,250.5 L212.6,249.4 L226.0,249.4 L239.0,252.8 L249.7,259.5 L260.5,270.2 L268.5,283.7 L276.6,294.4 L279.0,300.0 L275.0,308.0 L273.5,311.0 L277.6,314.8 L272.2,320.1 L265.5,324.1 L264.1,328.2 L266.8,332.2 L261.5,337.6 L256.1,342.9 L254.8,348.3 L257.4,356.0 M323.2,308.0 L333.9,305.4 L336.5,301.4 L347.2,296.0 L355.2,292.0 L366.0,284.0 L374.0,276.0 L378.0,265.2 L382.0,254.5 L384.7,243.8 L386.4,233.0 L392.2,228.4 L398.0,222.6 L403.9,214.6 L416.3,207.1 L428.8,202.1 L441.2,197.1 L453.7,192.1 L466.1,188.4 L478.6,182.2 M323.2,308.0 L319.1,312.1 L320.5,317.4 L315.1,318.8 L307.0,317.4 L299.0,320.1 L292.3,321.5 L289.6,325.5 L287.0,330.8 L284.3,337.6 L283.0,344.3 L284.3,350.0 M320.5,317.4 L325.8,320.1 L327.2,326.8 L325.8,333.5 L321.8,340.2 L315.1,344.3 L309.7,338.9 L303.0,337.6 L297.7,340.2 L291.0,338.9 L285.6,342.9 L287.0,350.0 M478.6,182.2 L481.1,174.7 L478.6,167.3 L481.1,159.8 L486.1,152.3 L493.5,144.9 L503.5,142.2 L514.2,139.5 L524.9,138.2 L535.7,135.5 L547.7,133.7 L555.3,132.1 L564.5,130.6 L570.7,129.1 L576.8,127.5 L575.3,124.5 L567.6,121.4 L561.5,116.8 L560.0,110.7 L563.0,104.5 L570.7,99.9 L578.3,98.4 L586.0,99.9 L592.1,103.0 L598.3,104.5 L604.4,103.0 L602.9,96.9 L598.3,93.8 L601.3,89.2 L609.0,86.1 L616.7,86.1 L624.4,83.1 L632.0,81.5 L640.0,83.1 L647.3,90.2 L656.9,92.2 L664.5,96.0 L674.1,101.7 L681.8,109.4 L687.0,113.0 M478.6,182.2 L488.5,177.2 L499.0,174.7 L503.5,177.1 L519.6,177.1 L530.3,174.4 L541.0,175.8 L546.1,172.4 L540.7,161.7 L543.4,151.0 L551.5,145.6 L556.0,143.0 L560.0,144.4 L566.1,142.9 L573.7,139.8 L582.9,138.3 L590.6,139.8 L596.7,144.4 L604.4,145.9 L610.6,142.9 L615.2,139.8 L621.3,136.7 L629.0,133.7 L635.1,133.7 L642.6,140.2 L653.4,134.9 L664.1,129.5 L674.8,124.1 L686.0,121.5 M601.3,110.7 L610.6,112.2 L618.2,118.3 L618.2,126.0 L613.6,130.6 L609.0,129.1 L604.4,122.9 L600.6,116.8 L601.3,110.7 M612.0,130.0 L611.0,139.8 M629.0,113.0 L634.0,110.7 L640.0,113.0 L642.0,118.0 L637.0,123.0 L631.0,121.0 L629.0,113.0" fill="none" stroke="#000" stroke-width="8.4" stroke-dasharray="0 6" stroke-linecap="round"/>
<path d="M137.3,190.4 L180.9,186.1 L190.1,268.4 L148.5,273.4 Z M254.9,124.9 L395.5,120.0 L396.8,225.7 L262.4,229.5 Z M397.4,120.7 L562.5,128.8 L551.8,234.8 L397.4,225.9 Z M242.7,231.7 L384.7,227.7 L383.0,326.2 L250.7,330.9 Z" fill="none" stroke="#e6228c" stroke-width="2.8"/>
<path d="M144.4,193.4 L147.3,190.5 L151.1,195.3 L149.2,201.0 L149.2,208.8 L153.0,216.4 L154.9,224.1 L158.8,229.9 L164.5,237.6 L169.3,239.5 L166.4,243.3 L162.6,247.1 L158.8,241.4 L151.1,231.8 L145.3,218.4 L143.4,204.9 L144.4,193.4 M263.0,138.0 L275.0,139.0 L287.0,144.0 L292.0,149.0 L289.0,154.0 L280.0,152.0 L270.0,147.0 L263.0,142.0 L263.0,138.0 M292.2,156.0 L302.2,153.6 L312.1,159.8 L322.1,163.5 L324.6,174.7 L327.0,179.7 L334.5,177.2 L347.0,177.2 L358.2,176.7 L366.9,182.2 L370.6,184.7 L366.9,192.1 L364.4,197.1 L361.9,192.1 L359.4,187.2 L349.5,184.7 L339.5,187.2 L329.6,192.1 L323.3,192.1 L322.1,187.2 L320.8,179.7 L312.1,180.9 L307.1,177.2 L307.1,172.2 L299.7,172.2 L294.7,169.7 L292.2,162.3 L292.2,156.0 M402.0,196.7 L400.7,193.8 L403.0,188.0 L405.9,186.3 L414.0,184.0 L420.9,183.4 L429.5,185.2 L441.0,189.8 L446.7,193.2 L443.9,196.1 L435.2,199.0 L427.8,201.3 L419.7,203.6 L412.2,207.6 L409.4,211.0 M402.0,196.7 L410.0,191.5 L414.0,188.5 L422.6,189.8 L425.5,193.2 L425.5,197.2 L429.5,198.5 M274.8,286.6 L280.2,275.9 L285.6,267.9 L296.3,265.2 L308.3,265.2 L305.7,270.6 L293.6,274.6 L285.6,279.9 L280.2,288.0 L274.8,286.6" fill="none" stroke="#4fbf45" stroke-width="3.6" stroke-linejoin="round"/>
<text class="rn" x="172.8" y="229.8" text-anchor="middle">I</text>
<text class="rn" x="363.1" y="171" text-anchor="middle">II</text>
<text class="rn" x="457.8" y="220" text-anchor="middle">III</text>
<text class="rn" x="325.7" y="263.9" text-anchor="middle">IV</text>
<path d="M381.3,227.4 L384.4,236.3 L393.9,236.5 L386.3,242.2 L389.1,251.3 L381.3,245.9 L373.5,251.3 L376.3,242.2 L368.7,236.5 L378.2,236.3 Z" fill="#3a50a6"/>
<text class="nm" x="400.8" y="253.7">Davis</text>
<text class="nm" x="193.8" y="316.4">AIS</text>
<text class="nm" x="600.3" y="171.9">WIS</text>
</g>
<path d="M73.0,69.0 L83.3,67.3 L93.7,65.7 L104.0,64.2 L114.3,62.7 L124.7,61.2 L135.0,59.8 L145.3,58.5 L155.7,57.2 L166.0,56.0 L176.3,54.8 L186.7,53.7 L197.0,52.7 L207.3,51.7 L217.7,50.8 L228.0,49.9 L238.3,49.1 L248.7,48.3 L259.0,47.6 L269.3,46.9 L279.7,46.3 L290.0,45.8 L300.3,45.3 L310.7,44.9 L321.0,44.5 L331.3,44.2 L341.7,44.0 L352.0,43.8 L362.3,43.6 L372.7,43.5 L383.0,43.5 L393.3,43.5 L403.7,43.6 L414.0,43.8 L424.3,44.0 L434.7,44.2 L445.0,44.5 L455.3,44.9 L465.7,45.3 L476.0,45.8 L486.3,46.3 L496.7,46.9 L507.0,47.6 L517.3,48.3 L527.7,49.1 L538.0,49.9 L548.3,50.8 L558.7,51.7 L569.0,52.7 L579.3,53.7 L589.7,54.8 L600.0,56.0 L610.3,57.2 L620.7,58.5 L631.0,59.8 L641.3,61.2 L651.7,62.7 L662.0,64.2 L672.3,65.7 L682.7,67.3 L693.0,69.0 L643.2,369.8 L634.5,368.5 L625.9,367.2 L617.2,366.0 L608.5,364.8 L599.8,363.6 L591.2,362.5 L582.5,361.5 L573.8,360.5 L565.1,359.5 L556.5,358.6 L547.8,357.7 L539.1,356.9 L530.4,356.1 L521.8,355.3 L513.1,354.7 L504.4,354.0 L495.8,353.4 L487.1,352.8 L478.4,352.3 L469.7,351.8 L461.1,351.4 L452.4,351.0 L443.7,350.7 L435.0,350.4 L426.4,350.2 L417.7,350.0 L409.0,349.8 L400.3,349.7 L391.7,349.6 L383.0,349.6 L374.3,349.6 L365.7,349.7 L357.0,349.8 L348.3,350.0 L339.6,350.2 L331.0,350.4 L322.3,350.7 L313.6,351.0 L304.9,351.4 L296.3,351.8 L287.6,352.3 L278.9,352.8 L270.2,353.4 L261.6,354.0 L252.9,354.7 L244.2,355.3 L235.6,356.1 L226.9,356.9 L218.2,357.7 L209.5,358.6 L200.9,359.5 L192.2,360.5 L183.5,361.5 L174.8,362.5 L166.2,363.6 L157.5,364.8 L148.8,366.0 L140.1,367.2 L131.5,368.5 L122.8,369.8 Z" fill="none" stroke="#000" stroke-width="4.2" stroke-linejoin="miter"/>
<path d="M197.0,52.7 L197.5,57.7 M226.9,356.9 L226.4,351.9 M321.0,44.5 L321.2,49.5 M331.0,350.4 L330.8,345.4 M445.0,44.5 L444.8,49.5 M435.0,350.4 L435.2,345.4 M569.0,52.7 L568.5,57.7 M539.1,356.9 L539.6,351.9 M85.5,144.2 L90.4,143.4 M680.5,144.2 L675.6,143.4 M97.9,219.4 L102.8,218.6 M668.1,219.4 L663.2,218.6 M110.3,294.6 L115.3,293.8 M655.6,294.6 L650.7,293.8" fill="none" stroke="#000" stroke-width="4"/>
<text class="tl" x="33" y="76" transform="rotate(-9.49 33 76)" text-anchor="middle" dominant-baseline="central">66°S</text>
<text class="tl" x="44" y="151" transform="rotate(-9.49 44 151)" text-anchor="middle" dominant-baseline="central">67°S</text>
<text class="tl" x="56" y="227" transform="rotate(-9.49 56 227)" text-anchor="middle" dominant-baseline="central">68°S</text>
<text class="tl" x="68" y="302" transform="rotate(-9.49 68 302)" text-anchor="middle" dominant-baseline="central">69°S</text>
<text class="tl" x="80" y="378" transform="rotate(-9.49 80 378)" text-anchor="middle" dominant-baseline="central">70°S</text>
<text class="tl" x="128" y="400" transform="rotate(-9.49 128 400)" text-anchor="middle" dominant-baseline="central">68<tspan class="sup" dy="-12">o</tspan><tspan dy="12">E</tspan></text>
<text class="tl" x="228.5" y="388" transform="rotate(-5.69 228.5 388)" text-anchor="middle" dominant-baseline="central">72<tspan class="sup" dy="-12">o</tspan><tspan dy="12">E</tspan></text>
<text class="tl" x="331.3" y="380.5" transform="rotate(-1.90 331.3 380.5)" text-anchor="middle" dominant-baseline="central">76<tspan class="sup" dy="-12">o</tspan><tspan dy="12">E</tspan></text>
<text class="tl" x="434.2" y="379.5" transform="rotate(1.90 434.2 379.5)" text-anchor="middle" dominant-baseline="central">80<tspan class="sup" dy="-12">o</tspan><tspan dy="12">E</tspan></text>
<text class="tl" x="536.7" y="386" transform="rotate(5.69 536.7 386)" text-anchor="middle" dominant-baseline="central">84<tspan class="sup" dy="-12">o</tspan><tspan dy="12">E</tspan></text>
<text class="tl" x="638.8" y="400" transform="rotate(9.49 638.8 400)" text-anchor="middle" dominant-baseline="central">88<tspan class="sup" dy="-12">o</tspan><tspan dy="12">E</tspan></text>
<clipPath id="clipB"><path d="M794.0,69.0 L804.3,67.3 L814.7,65.7 L825.0,64.2 L835.3,62.7 L845.7,61.2 L856.0,59.8 L866.3,58.5 L876.7,57.2 L887.0,56.0 L897.3,54.8 L907.7,53.7 L918.0,52.7 L928.3,51.7 L938.7,50.8 L949.0,49.9 L959.3,49.1 L969.7,48.3 L980.0,47.6 L990.3,46.9 L1000.7,46.3 L1011.0,45.8 L1021.3,45.3 L1031.7,44.9 L1042.0,44.5 L1052.3,44.2 L1062.7,44.0 L1073.0,43.8 L1083.3,43.6 L1093.7,43.5 L1104.0,43.5 L1114.3,43.5 L1124.7,43.6 L1135.0,43.8 L1145.3,44.0 L1155.7,44.2 L1166.0,44.5 L1176.3,44.9 L1186.7,45.3 L1197.0,45.8 L1207.3,46.3 L1217.7,46.9 L1228.0,47.6 L1238.3,48.3 L1248.7,49.1 L1259.0,49.9 L1269.3,50.8 L1279.7,51.7 L1290.0,52.7 L1300.3,53.7 L1310.7,54.8 L1321.0,56.0 L1331.3,57.2 L1341.7,58.5 L1352.0,59.8 L1362.3,61.2 L1372.7,62.7 L1383.0,64.2 L1393.3,65.7 L1403.7,67.3 L1414.0,69.0 L1364.2,369.8 L1355.5,368.5 L1346.9,367.2 L1338.2,366.0 L1329.5,364.8 L1320.8,363.6 L1312.2,362.5 L1303.5,361.5 L1294.8,360.5 L1286.1,359.5 L1277.5,358.6 L1268.8,357.7 L1260.1,356.9 L1251.4,356.1 L1242.8,355.3 L1234.1,354.7 L1225.4,354.0 L1216.8,353.4 L1208.1,352.8 L1199.4,352.3 L1190.7,351.8 L1182.1,351.4 L1173.4,351.0 L1164.7,350.7 L1156.0,350.4 L1147.4,350.2 L1138.7,350.0 L1130.0,349.8 L1121.3,349.7 L1112.7,349.6 L1104.0,349.6 L1095.3,349.6 L1086.7,349.7 L1078.0,349.8 L1069.3,350.0 L1060.6,350.2 L1052.0,350.4 L1043.3,350.7 L1034.6,351.0 L1025.9,351.4 L1017.3,351.8 L1008.6,352.3 L999.9,352.8 L991.2,353.4 L982.6,354.0 L973.9,354.7 L965.2,355.3 L956.6,356.1 L947.9,356.9 L939.2,357.7 L930.5,358.6 L921.9,359.5 L913.2,360.5 L904.5,361.5 L895.8,362.5 L887.2,363.6 L878.5,364.8 L869.8,366.0 L861.1,367.2 L852.5,368.5 L843.8,369.8 Z"/></clipPath>
<g clip-path="url(#clipB)">
<filter id="blB0" x="-50%" y="-50%" width="200%" height="200%"><feGaussianBlur stdDeviation="4"/></filter>
<path d="M811.0,150.0 L820.0,146.0 L835.0,140.0 L850.0,138.0 L865.0,137.0 L872.0,145.0 L870.0,165.0 L868.0,185.0 L862.0,200.0 L850.0,206.0 L835.0,208.0 L820.0,210.0 L811.0,208.0 Z" fill="rgb(125, 132, 202)" fill-opacity="0.85" filter="url(#blB0)"/>
<filter id="blB1" x="-50%" y="-50%" width="200%" height="200%"><feGaussianBlur stdDeviation="3"/></filter>
<path d="M812.0,158.0 L826.0,156.0 L835.0,168.0 L836.0,186.0 L832.0,198.0 L820.0,202.0 L812.0,200.0 Z" fill="rgb(58, 80, 165)" fill-opacity="0.95" filter="url(#blB1)"/>
<filter id="blB2" x="-50%" y="-50%" width="200%" height="200%"><feGaussianBlur stdDeviation="6"/></filter>
<path d="M862.0,160.0 L885.0,150.0 L910.0,150.0 L925.0,165.0 L925.0,200.0 L915.0,235.0 L900.0,248.0 L885.0,245.0 L872.0,232.0 L862.0,212.0 L858.0,190.0 Z" fill="rgb(243, 192, 197)" fill-opacity="0.85" filter="url(#blB2)"/>
<filter id="blB3" x="-50%" y="-50%" width="200%" height="200%"><feGaussianBlur stdDeviation="4"/></filter>
<path d="M876.0,194.0 L893.0,194.0 L896.0,210.0 L890.0,220.0 L880.0,218.0 Z" fill="rgb(238, 155, 160)" fill-opacity="0.8" filter="url(#blB3)"/>
<filter id="blB4" x="-50%" y="-50%" width="200%" height="200%"><feGaussianBlur stdDeviation="8"/></filter>
<path d="M920.0,125.0 L960.0,120.0 L1000.0,125.0 L1040.0,130.0 L1080.0,140.0 L1090.0,170.0 L1085.0,220.0 L1060.0,240.0 L1020.0,250.0 L980.0,250.0 L940.0,245.0 L920.0,220.0 L915.0,170.0 Z" fill="rgb(250, 236, 238)" fill-opacity="0.55" filter="url(#blB4)"/>
<filter id="blB5" x="-50%" y="-50%" width="200%" height="200%"><feGaussianBlur stdDeviation="4"/></filter>
<path d="M1003.0,200.0 L1030.0,196.0 L1056.0,205.0 L1055.0,222.0 L1030.0,224.0 L1005.0,215.0 Z" fill="rgb(245, 192, 197)" fill-opacity="0.8" filter="url(#blB5)"/>
<filter id="blB6" x="-50%" y="-50%" width="200%" height="200%"><feGaussianBlur stdDeviation="5"/></filter>
<path d="M1100.0,86.0 L1160.0,86.0 L1160.0,106.0 L1100.0,106.0 Z" fill="rgb(218, 218, 238)" fill-opacity="0.8" filter="url(#blB6)"/>
<filter id="blB7" x="-50%" y="-50%" width="200%" height="200%"><feGaussianBlur stdDeviation="5"/></filter>
<path d="M1120.0,100.0 L1175.0,95.0 L1180.0,120.0 L1170.0,135.0 L1140.0,140.0 L1120.0,128.0 Z" fill="rgb(246, 200, 204)" fill-opacity="0.85" filter="url(#blB7)"/>
<filter id="blB8" x="-50%" y="-50%" width="200%" height="200%"><feGaussianBlur stdDeviation="5"/></filter>
<path d="M1080.0,125.0 L1130.0,125.0 L1160.0,140.0 L1150.0,165.0 L1110.0,170.0 L1085.0,160.0 Z" fill="rgb(248, 215, 218)" fill-opacity="0.8" filter="url(#blB8)"/>
<filter id="blB9" x="-50%" y="-50%" width="200%" height="200%"><feGaussianBlur stdDeviation="3"/></filter>
<path d="M1132.0,135.0 L1153.0,135.0 L1153.0,155.0 L1132.0,155.0 Z" fill="rgb(244, 185, 190)" fill-opacity="0.7" filter="url(#blB9)"/>
<filter id="blB10" x="-50%" y="-50%" width="200%" height="200%"><feGaussianBlur stdDeviation="5"/></filter>
<path d="M1173.0,72.0 L1200.0,62.0 L1222.0,60.0 L1225.0,75.0 L1222.0,115.0 L1205.0,122.0 L1180.0,118.0 L1172.0,100.0 Z" fill="rgb(242, 165, 170)" fill-opacity="0.85" filter="url(#blB10)"/>
<filter id="blB11" x="-50%" y="-50%" width="200%" height="200%"><feGaussianBlur stdDeviation="4"/></filter>
<path d="M1195.0,90.0 L1218.0,88.0 L1220.0,108.0 L1200.0,110.0 Z" fill="rgb(236, 125, 130)" fill-opacity="0.8" filter="url(#blB11)"/>
<filter id="blB12" x="-50%" y="-50%" width="200%" height="200%"><feGaussianBlur stdDeviation="4"/></filter>
<path d="M1226.0,52.0 L1300.0,50.0 L1318.0,60.0 L1318.0,86.0 L1301.0,101.0 L1280.0,110.0 L1270.0,122.0 L1246.0,129.0 L1226.0,132.0 Z" fill="rgb(90, 105, 185)" fill-opacity="0.9" filter="url(#blB12)"/>
<filter id="blB13" x="-50%" y="-50%" width="200%" height="200%"><feGaussianBlur stdDeviation="3"/></filter>
<path d="M1232.0,58.0 L1300.0,56.0 L1308.0,80.0 L1298.0,98.0 L1275.0,108.0 L1262.0,120.0 L1245.0,126.0 L1232.0,126.0 Z" fill="rgb(58, 80, 165)" fill-opacity="0.95" filter="url(#blB13)"/>
<filter id="blB14" x="-50%" y="-50%" width="200%" height="200%"><feGaussianBlur stdDeviation="4"/></filter>
<path d="M1092.0,195.0 L1120.0,183.0 L1160.0,167.0 L1193.0,147.0 L1225.0,126.0 L1228.0,140.0 L1209.0,155.0 L1201.0,179.0 L1160.0,197.0 L1140.0,211.0 L1104.0,239.0 L1095.0,245.0 Z" fill="rgb(150, 155, 210)" fill-opacity="0.9" filter="url(#blB14)"/>
<filter id="blB15" x="-50%" y="-50%" width="200%" height="200%"><feGaussianBlur stdDeviation="4"/></filter>
<path d="M1092.0,205.0 L1120.0,195.0 L1145.0,190.0 L1140.0,211.0 L1110.0,235.0 L1096.0,245.0 Z" fill="rgb(105, 112, 190)" fill-opacity="0.8" filter="url(#blB15)"/>
<filter id="blB16" x="-50%" y="-50%" width="200%" height="200%"><feGaussianBlur stdDeviation="4"/></filter>
<path d="M1190.0,140.0 L1225.0,125.0 L1228.0,140.0 L1209.0,155.0 L1195.0,160.0 Z" fill="rgb(110, 118, 195)" fill-opacity="0.8" filter="url(#blB16)"/>
<filter id="blB17" x="-50%" y="-50%" width="200%" height="200%"><feGaussianBlur stdDeviation="4"/></filter>
<path d="M990.0,300.0 L1020.0,290.0 L1055.0,296.0 L1050.0,312.0 L1020.0,320.0 L995.0,330.0 Z" fill="rgb(212, 212, 236)" fill-opacity="0.85" filter="url(#blB17)"/>
<path d="M1107.4,233.0 L1113.2,228.4 L1119.0,222.6 L1124.9,214.6 L1137.3,207.1 L1149.8,202.1 L1162.2,197.1 L1174.7,192.1 L1187.1,188.4 L1199.6,182.2 L1202.1,174.7 L1199.6,167.3 L1202.1,159.8 L1207.1,152.3 L1214.5,144.9 L1224.5,142.2 L1235.2,139.5 L1245.9,138.2 L1256.7,135.5 L1268.7,133.7 L1276.3,132.1 L1285.5,130.6 L1291.7,129.1 L1297.8,127.5 L1296.3,124.5 L1288.6,121.4 L1282.5,116.8 L1281.0,110.7 L1284.0,104.5 L1291.7,99.9 L1299.3,98.4 L1307.0,99.9 L1313.1,103.0 L1319.3,104.5 L1325.4,103.0 L1323.9,96.9 L1319.3,93.8 L1322.3,89.2 L1330.0,86.1 L1337.7,86.1 L1345.4,83.1 L1353.0,81.5 L1361.0,83.1 L1368.3,90.2 L1377.9,92.2 L1385.5,96.0 L1395.1,101.7 L1402.8,109.4 L1413.0,113.0 L1426.0,113.0 L1426.0,400.0 L1006.0,400.0 L1006.0,360.0 L1005.3,348.3 L1004.0,344.3 L1005.3,337.6 L1008.0,330.8 L1010.6,325.5 L1013.3,321.5 L1020.0,320.1 L1028.0,317.4 L1036.1,318.8 L1041.5,317.4 L1040.1,312.1 L1044.2,308.0 L1054.9,305.4 L1057.5,301.4 L1068.2,296.0 L1076.2,292.0 L1087.0,284.0 L1095.0,276.0 L1099.0,265.2 L1103.0,254.5 L1105.7,243.8 Z M883.6,251.0 L885.5,251.0 L889.4,258.6 L889.4,266.3 L895.1,262.5 L900.9,256.7 L906.6,254.8 L914.3,256.7 L918.1,252.9 L925.5,250.5 L933.6,249.4 L947.0,249.4 L960.0,252.8 L970.7,259.5 L981.5,270.2 L989.5,283.7 L997.6,294.4 L1000.0,300.0 L996.0,308.0 L994.5,311.0 L998.6,314.8 L993.2,320.1 L986.5,324.1 L985.1,328.2 L987.8,332.2 L982.5,337.6 L977.1,342.9 L975.8,348.3 L979.0,380.0 L861.0,380.0 L869.8,370.0 L870.5,362.0 L873.0,356.0 L871.0,352.0 L864.0,349.0 L862.0,345.0 L871.0,341.0 L873.5,337.0 L867.0,333.0 L858.3,330.0 L858.5,320.4 L863.9,317.7 L874.6,315.0 L877.3,309.7 L871.9,304.3 L867.9,296.3 L874.6,290.9 L871.9,284.2 L866.3,275.9 L868.3,270.1 L870.2,262.5 L872.1,256.7 L877.9,254.8 Z M801.0,209.5 L819.8,209.1 L829.0,208.6 L840.5,204.5 L848.5,201.0 L851.0,193.4 L856.8,191.5 L862.5,195.3 L864.4,203.0 L864.4,212.6 L868.3,222.2 L872.1,231.8 L877.9,239.5 L881.7,245.2 L883.6,251.0 L877.9,254.8 L872.1,256.7 L870.2,262.5 L868.3,270.1 L866.3,275.9 L871.9,284.2 L874.6,290.9 L867.9,296.3 L871.9,304.3 L877.3,309.7 L874.6,315.0 L863.9,317.7 L858.5,320.4 L858.3,330.0 L867.0,333.0 L873.5,337.0 L871.0,341.0 L862.0,345.0 L864.0,349.0 L871.0,352.0 L873.0,356.0 L870.5,362.0 L869.8,370.0 L861.0,390.0 L801.0,390.0 Z" fill="#fff"/>
</g>
<g clip-path="url(#clipB)">
<path d="M918.0,52.7 L947.9,356.9 M1042.0,44.5 L1052.0,350.4 M1166.0,44.5 L1156.0,350.4 M1290.0,52.7 L1260.1,356.9 M806.5,144.2 L821.3,141.8 L836.2,139.5 L851.1,137.4 L866.0,135.4 L880.8,133.5 L895.7,131.7 L910.6,130.1 L925.5,128.5 L940.3,127.1 L955.2,125.8 L970.1,124.7 L985.0,123.6 L999.9,122.7 L1014.7,121.9 L1029.6,121.2 L1044.5,120.7 L1059.4,120.3 L1074.2,119.9 L1089.1,119.8 L1104.0,119.7 L1118.9,119.8 L1133.8,119.9 L1148.6,120.3 L1163.5,120.7 L1178.4,121.2 L1193.3,121.9 L1208.1,122.7 L1223.0,123.6 L1237.9,124.7 L1252.8,125.8 L1267.7,127.1 L1282.5,128.5 L1297.4,130.1 L1312.3,131.7 L1327.2,133.5 L1342.0,135.4 L1356.9,137.4 L1371.8,139.5 L1386.7,141.8 L1401.5,144.2 M818.9,219.4 L833.2,217.1 L847.4,215.0 L861.7,213.0 L875.9,211.0 L890.2,209.2 L904.4,207.6 L918.7,206.0 L932.9,204.6 L947.2,203.2 L961.5,202.0 L975.7,200.9 L990.0,199.9 L1004.2,199.0 L1018.5,198.3 L1032.7,197.6 L1047.0,197.1 L1061.2,196.7 L1075.5,196.4 L1089.7,196.3 L1104.0,196.2 L1118.3,196.3 L1132.5,196.4 L1146.8,196.7 L1161.0,197.1 L1175.3,197.6 L1189.5,198.3 L1203.8,199.0 L1218.0,199.9 L1232.3,200.9 L1246.6,202.0 L1260.8,203.2 L1275.1,204.6 L1289.3,206.0 L1303.6,207.6 L1317.8,209.2 L1332.1,211.0 L1346.3,213.0 L1360.6,215.0 L1374.8,217.1 L1389.1,219.4 M831.4,294.6 L845.0,292.5 L858.6,290.4 L872.2,288.5 L885.9,286.7 L899.5,285.0 L913.1,283.4 L926.8,282.0 L940.4,280.6 L954.0,279.3 L967.7,278.2 L981.3,277.1 L994.9,276.2 L1008.6,275.4 L1022.2,274.7 L1035.8,274.1 L1049.5,273.6 L1063.1,273.2 L1076.7,272.9 L1090.4,272.8 L1104.0,272.7 L1117.6,272.8 L1131.3,272.9 L1144.9,273.2 L1158.5,273.6 L1172.2,274.1 L1185.8,274.7 L1199.4,275.4 L1213.1,276.2 L1226.7,277.1 L1240.3,278.2 L1254.0,279.3 L1267.6,280.6 L1281.2,282.0 L1294.9,283.4 L1308.5,285.0 L1322.1,286.7 L1335.8,288.5 L1349.4,290.4 L1363.0,292.5 L1376.7,294.6" fill="none" stroke="#bbb" stroke-width="0.8" stroke-dasharray="1.5,2"/>
<path d="M811.8,151.2 L820.4,144.5 L829.0,139.7 L832.8,141.6 L837.6,137.8 L842.4,133.0 L847.2,131.1 L854.0,129.2 L859.7,130.1 L866.0,127.3 L873.8,125.7 L882.8,123.1 L889.0,120.0 L893.1,117.9 L898.3,119.7 L900.0,128.3 L898.3,138.6 L900.0,149.0 L901.7,159.3 L906.9,169.7 L910.3,180.0 L913.8,190.3 L917.2,200.7 L920.7,211.0 L919.0,216.2 M920.7,211.0 L913.8,207.6 L905.0,203.0 L899.0,199.5 L893.0,199.5 L886.0,203.0 L883.6,207.0 L887.0,210.0 L893.0,208.0 L898.0,212.0 L898.0,214.5 L896.0,228.0 L894.0,237.5 L888.4,241.4 L886.4,245.2 L891.0,248.0 L894.0,247.0 M917.0,244.0 L924.0,241.0 L931.0,238.6 L941.4,238.6 L949.0,243.0 L960.0,249.0 M955.3,113.0 L964.0,113.7 L970.7,114.5 L995.2,119.1 L1016.7,119.1 L1041.2,119.1 L1062.7,116.1 L1078.0,113.0 L1084.1,105.3 L1090.0,104.8 L1105.0,99.8 L1117.4,89.8 L1132.4,84.9 L1147.3,77.4 L1152.3,67.4 L1157.3,59.9 L1164.8,55.0 L1177.2,52.5 L1187.2,50.0 M955.3,113.0 L954.0,119.1 L958.4,125.3 L964.5,129.9 L969.1,136.0 L970.7,145.2 L973.7,151.3 L979.9,155.9 L986.0,163.6 L989.1,172.8 L993.7,171.3 L1001.3,172.8 L1004.4,178.9 L1007.5,188.1 L1013.6,191.2 L1019.7,195.8 L1025.9,200.4 L1032.0,206.5 L1041.2,212.7 L1050.4,215.7 L1059.6,212.7 L1068.8,206.5 L1078.0,205.0 L1087.2,208.1 L1093.3,205.0 L1096.4,197.3 L1099.5,188.1 L1105.6,182.0 L1111.7,175.9 L1114.9,174.7 L1119.9,167.3 L1123.6,159.8 L1124.9,149.8 L1122.4,139.9 L1124.9,129.9 L1127.4,122.4 L1139.8,119.7 L1154.8,114.8 L1164.8,112.3 L1174.7,114.8 L1177.2,119.7 L1184.7,122.2 L1202.1,119.7 L1219.6,114.8 L1225.8,104.8 L1226.6,94.8 L1219.6,89.8 L1207.1,89.8 L1197.2,89.8 L1189.7,84.9 L1197.2,77.4 L1207.1,69.9 L1209.6,62.4 L1214.6,59.9 L1219.6,64.9 L1227.1,67.4 L1232.0,62.4 L1227.1,55.0 L1224.6,50.0 M1109.9,184.7 L1107.5,194.6 L1105.0,204.6 L1102.5,214.6 L1099.0,222.0 L1094.2,230.0 L1088.8,238.0 L1091.5,246.1 L1088.8,256.8 L1083.4,262.2 L1075.4,264.9 L1067.3,270.2 L1059.3,278.3 L1053.9,283.7 L1045.9,290.4 L1037.8,291.7 L1029.8,299.8 L1021.7,304.0 L1017.3,305.4 L1012.0,306.7 L1007.0,312.0 L1004.0,318.0 L1001.2,324.1 L994.5,325.5 M1017.3,305.4 L1022.7,310.7 L1028.0,313.4 L1032.1,312.1 L1036.1,308.0 L1040.1,302.7 M1177.2,97.0 L1183.0,94.8 L1191.0,97.0 L1199.7,100.0 L1197.0,106.0 L1199.7,112.0 L1193.0,114.8 L1185.0,112.0 L1179.0,110.0 L1177.2,104.0 L1177.2,97.0 M1132.4,137.4 L1137.3,134.9 L1147.3,134.9 L1152.3,139.9 L1149.8,149.8 L1149.8,159.8 L1142.3,162.3 L1137.3,157.3 L1134.8,149.8 L1132.4,142.4 L1132.4,137.4 M1124.9,177.2 L1137.3,177.2 L1149.8,174.7 L1159.7,167.3 L1167.2,159.8 L1174.7,154.8 L1184.6,152.3 L1197.1,147.3 L1207.1,142.4 L1214.5,139.9 M1169.7,137.4 L1179.7,134.9 L1189.6,132.4 L1199.6,132.4 L1199.6,137.4 L1187.1,139.9 L1174.7,142.4 L1164.7,144.9 L1162.2,152.3 M1159.7,179.7 L1167.2,177.2 L1174.7,174.7 L1182.2,177.2 L1189.6,174.7 L1197.1,172.2 L1197.1,164.8 L1189.6,159.8 M1162.2,184.7 L1172.2,184.7 L1179.7,184.7 M1207.1,124.9 L1217.0,122.4 L1223.0,126.0 L1221.0,134.0 L1213.0,138.0 L1207.0,134.0 L1207.1,124.9 M1164.8,149.6 L1177.2,147.1 L1189.7,144.7 M918.0,127.0 L916.0,122.0 L919.0,118.0 L924.0,116.0 L926.0,113.0 L928.0,116.0 L926.0,121.0 L922.0,124.0 L918.0,127.0 M1252.8,53.4 L1264.3,59.2 L1272.0,55.3 L1281.0,53.0 M1261.0,57.7 L1266.7,73.0 L1284.0,74.9 L1299.3,69.2 L1314.7,63.4 L1318.5,57.7 M1324.2,61.5 L1326.1,69.2 L1320.4,76.8 L1314.7,84.5 L1310.8,94.1 M1337.6,60.8 L1335.0,68.0 L1334.9,74.2 L1338.9,79.5 L1344.3,74.2 L1355.0,75.5 L1375.0,82.2 L1391.0,87.0 L1409.0,92.0 M1221.0,139.7 L1231.0,134.0 L1245.2,128.2 L1261.0,121.4 L1268.1,117.0 L1276.3,107.6 L1281.0,101.5 L1291.7,96.9 L1304.0,93.8 L1311.6,89.2 L1314.7,81.5" fill="none" stroke="#8c8c8c" stroke-width="3.2" stroke-linejoin="round" stroke-linecap="round"/>
<path d="M811.8,151.2 L820.4,144.5 L829.0,139.7 L832.8,141.6 L837.6,137.8 L842.4,133.0 L847.2,131.1 L854.0,129.2 L859.7,130.1 L866.0,127.3 L873.8,125.7 L882.8,123.1 L889.0,120.0 L893.1,117.9 L898.3,119.7 L900.0,128.3 L898.3,138.6 L900.0,149.0 L901.7,159.3 L906.9,169.7 L910.3,180.0 L913.8,190.3 L917.2,200.7 L920.7,211.0 L919.0,216.2 M920.7,211.0 L913.8,207.6 L905.0,203.0 L899.0,199.5 L893.0,199.5 L886.0,203.0 L883.6,207.0 L887.0,210.0 L893.0,208.0 L898.0,212.0 L898.0,214.5 L896.0,228.0 L894.0,237.5 L888.4,241.4 L886.4,245.2 L891.0,248.0 L894.0,247.0 M917.0,244.0 L924.0,241.0 L931.0,238.6 L941.4,238.6 L949.0,243.0 L960.0,249.0 M955.3,113.0 L964.0,113.7 L970.7,114.5 L995.2,119.1 L1016.7,119.1 L1041.2,119.1 L1062.7,116.1 L1078.0,113.0 L1084.1,105.3 L1090.0,104.8 L1105.0,99.8 L1117.4,89.8 L1132.4,84.9 L1147.3,77.4 L1152.3,67.4 L1157.3,59.9 L1164.8,55.0 L1177.2,52.5 L1187.2,50.0 M955.3,113.0 L954.0,119.1 L958.4,125.3 L964.5,129.9 L969.1,136.0 L970.7,145.2 L973.7,151.3 L979.9,155.9 L986.0,163.6 L989.1,172.8 L993.7,171.3 L1001.3,172.8 L1004.4,178.9 L1007.5,188.1 L1013.6,191.2 L1019.7,195.8 L1025.9,200.4 L1032.0,206.5 L1041.2,212.7 L1050.4,215.7 L1059.6,212.7 L1068.8,206.5 L1078.0,205.0 L1087.2,208.1 L1093.3,205.0 L1096.4,197.3 L1099.5,188.1 L1105.6,182.0 L1111.7,175.9 L1114.9,174.7 L1119.9,167.3 L1123.6,159.8 L1124.9,149.8 L1122.4,139.9 L1124.9,129.9 L1127.4,122.4 L1139.8,119.7 L1154.8,114.8 L1164.8,112.3 L1174.7,114.8 L1177.2,119.7 L1184.7,122.2 L1202.1,119.7 L1219.6,114.8 L1225.8,104.8 L1226.6,94.8 L1219.6,89.8 L1207.1,89.8 L1197.2,89.8 L1189.7,84.9 L1197.2,77.4 L1207.1,69.9 L1209.6,62.4 L1214.6,59.9 L1219.6,64.9 L1227.1,67.4 L1232.0,62.4 L1227.1,55.0 L1224.6,50.0 M1109.9,184.7 L1107.5,194.6 L1105.0,204.6 L1102.5,214.6 L1099.0,222.0 L1094.2,230.0 L1088.8,238.0 L1091.5,246.1 L1088.8,256.8 L1083.4,262.2 L1075.4,264.9 L1067.3,270.2 L1059.3,278.3 L1053.9,283.7 L1045.9,290.4 L1037.8,291.7 L1029.8,299.8 L1021.7,304.0 L1017.3,305.4 L1012.0,306.7 L1007.0,312.0 L1004.0,318.0 L1001.2,324.1 L994.5,325.5 M1017.3,305.4 L1022.7,310.7 L1028.0,313.4 L1032.1,312.1 L1036.1,308.0 L1040.1,302.7 M1177.2,97.0 L1183.0,94.8 L1191.0,97.0 L1199.7,100.0 L1197.0,106.0 L1199.7,112.0 L1193.0,114.8 L1185.0,112.0 L1179.0,110.0 L1177.2,104.0 L1177.2,97.0 M1132.4,137.4 L1137.3,134.9 L1147.3,134.9 L1152.3,139.9 L1149.8,149.8 L1149.8,159.8 L1142.3,162.3 L1137.3,157.3 L1134.8,149.8 L1132.4,142.4 L1132.4,137.4 M1124.9,177.2 L1137.3,177.2 L1149.8,174.7 L1159.7,167.3 L1167.2,159.8 L1174.7,154.8 L1184.6,152.3 L1197.1,147.3 L1207.1,142.4 L1214.5,139.9 M1169.7,137.4 L1179.7,134.9 L1189.6,132.4 L1199.6,132.4 L1199.6,137.4 L1187.1,139.9 L1174.7,142.4 L1164.7,144.9 L1162.2,152.3 M1159.7,179.7 L1167.2,177.2 L1174.7,174.7 L1182.2,177.2 L1189.6,174.7 L1197.1,172.2 L1197.1,164.8 L1189.6,159.8 M1162.2,184.7 L1172.2,184.7 L1179.7,184.7 M1207.1,124.9 L1217.0,122.4 L1223.0,126.0 L1221.0,134.0 L1213.0,138.0 L1207.0,134.0 L1207.1,124.9 M1164.8,149.6 L1177.2,147.1 L1189.7,144.7 M918.0,127.0 L916.0,122.0 L919.0,118.0 L924.0,116.0 L926.0,113.0 L928.0,116.0 L926.0,121.0 L922.0,124.0 L918.0,127.0 M1252.8,53.4 L1264.3,59.2 L1272.0,55.3 L1281.0,53.0 M1261.0,57.7 L1266.7,73.0 L1284.0,74.9 L1299.3,69.2 L1314.7,63.4 L1318.5,57.7 M1324.2,61.5 L1326.1,69.2 L1320.4,76.8 L1314.7,84.5 L1310.8,94.1 M1337.6,60.8 L1335.0,68.0 L1334.9,74.2 L1338.9,79.5 L1344.3,74.2 L1355.0,75.5 L1375.0,82.2 L1391.0,87.0 L1409.0,92.0 M1221.0,139.7 L1231.0,134.0 L1245.2,128.2 L1261.0,121.4 L1268.1,117.0 L1276.3,107.6 L1281.0,101.5 L1291.7,96.9 L1304.0,93.8 L1311.6,89.2 L1314.7,81.5" fill="none" stroke="#8c8c8c" stroke-width="4.2" stroke-dasharray="0 4.5" stroke-linecap="round"/>
<path d="M1093.0,232.0 L1095.5,245.0 L1097.0,256.0 L1094.0,267.0 L1087.0,275.5 L1079.0,281.0 L1071.0,285.5 L1063.0,290.0 L1056.0,294.0 L1049.0,297.5 L1041.0,300.5" fill="none" stroke="#8c8c8c" stroke-width="6" stroke-linejoin="round" stroke-linecap="round"/>
<path d="M1093.0,232.0 L1095.5,245.0 L1097.0,256.0 L1094.0,267.0 L1087.0,275.5 L1079.0,281.0 L1071.0,285.5 L1063.0,290.0 L1056.0,294.0 L1049.0,297.5 L1041.0,300.5" fill="none" stroke="#8c8c8c" stroke-width="7.5" stroke-dasharray="0 5" stroke-linecap="round"/>
<circle cx="850.1" cy="134.9" r="3.4" fill="#8c8c8c"/>
<circle cx="884.5" cy="128.3" r="3.4" fill="#8c8c8c"/>
<circle cx="898.3" cy="182.8" r="3.4" fill="#8c8c8c"/>
<circle cx="987.5" cy="126.8" r="3.4" fill="#8c8c8c"/>
<circle cx="998.3" cy="126.8" r="3.4" fill="#8c8c8c"/>
<circle cx="1006" cy="126.8" r="3.4" fill="#8c8c8c"/>
<circle cx="1012.1" cy="127.4" r="3.4" fill="#8c8c8c"/>
<circle cx="1029" cy="117.6" r="3.4" fill="#8c8c8c"/>
<circle cx="1038.1" cy="119.1" r="3.4" fill="#8c8c8c"/>
<circle cx="1098.9" cy="117.6" r="3.4" fill="#8c8c8c"/>
<circle cx="970.7" cy="149.8" r="3.4" fill="#8c8c8c"/>
<circle cx="996.7" cy="163.6" r="3.4" fill="#8c8c8c"/>
<circle cx="1006" cy="165.1" r="3.4" fill="#8c8c8c"/>
<circle cx="1009" cy="178.9" r="3.4" fill="#8c8c8c"/>
<circle cx="1021.3" cy="189.7" r="3.4" fill="#8c8c8c"/>
<circle cx="1022.8" cy="198.9" r="3.4" fill="#8c8c8c"/>
<circle cx="1029" cy="201.9" r="3.4" fill="#8c8c8c"/>
<circle cx="1073.4" cy="201.9" r="3.4" fill="#8c8c8c"/>
<circle cx="1084.1" cy="206.5" r="3.4" fill="#8c8c8c"/>
<circle cx="1101" cy="205" r="3.4" fill="#8c8c8c"/>
<circle cx="1122.4" cy="96.1" r="3.4" fill="#8c8c8c"/>
<circle cx="1098.7" cy="117.2" r="3.4" fill="#8c8c8c"/>
<circle cx="1157.3" cy="119.7" r="3.4" fill="#8c8c8c"/>
<circle cx="1164.8" cy="111" r="3.4" fill="#8c8c8c"/>
<circle cx="1193.4" cy="112.3" r="3.4" fill="#8c8c8c"/>
<circle cx="1236.8" cy="68.7" r="3.4" fill="#8c8c8c"/>
<circle cx="1189.7" cy="84.9" r="3.4" fill="#8c8c8c"/>
<circle cx="1132.4" cy="134.9" r="3.4" fill="#8c8c8c"/>
<circle cx="1129.9" cy="167.3" r="3.4" fill="#8c8c8c"/>
<circle cx="1159.7" cy="162.3" r="3.4" fill="#8c8c8c"/>
<circle cx="1167.2" cy="176" r="3.4" fill="#8c8c8c"/>
<circle cx="1139.8" cy="177.2" r="3.4" fill="#8c8c8c"/>
<circle cx="1113.7" cy="161" r="3.4" fill="#8c8c8c"/>
<circle cx="1111.2" cy="192.1" r="3.4" fill="#8c8c8c"/>
<circle cx="1285.9" cy="79.7" r="3.4" fill="#8c8c8c"/>
<circle cx="1302.2" cy="77.8" r="3.4" fill="#8c8c8c"/>
<circle cx="925.9" cy="212.8" r="3.4" fill="#8c8c8c"/>
<circle cx="931" cy="238.6" r="3.4" fill="#8c8c8c"/>
<circle cx="941.4" cy="238.6" r="3.4" fill="#8c8c8c"/>
<circle cx="1071" cy="266" r="3.4" fill="#8c8c8c"/>
<circle cx="1077" cy="270" r="3.4" fill="#8c8c8c"/>
<circle cx="1083" cy="268" r="3.4" fill="#8c8c8c"/>
<circle cx="1067" cy="276" r="3.4" fill="#8c8c8c"/>
<circle cx="1073" cy="276" r="3.4" fill="#8c8c8c"/>
<circle cx="1066" cy="280" r="3.4" fill="#8c8c8c"/>
<circle cx="1081" cy="272" r="3.4" fill="#8c8c8c"/>
<circle cx="1087" cy="265" r="3.4" fill="#8c8c8c"/>
<circle cx="1059" cy="284" r="3.4" fill="#8c8c8c"/>
<circle cx="1077" cy="268" r="3.4" fill="#8c8c8c"/>
<circle cx="1092" cy="250" r="3.4" fill="#8c8c8c"/>
<circle cx="1090" cy="238" r="3.4" fill="#8c8c8c"/>
<circle cx="1047" cy="301" r="3.4" fill="#8c8c8c"/>
<circle cx="1035" cy="304" r="3.4" fill="#8c8c8c"/>
<circle cx="1053" cy="289" r="3.4" fill="#8c8c8c"/>
<path d="M809.0,147.5 L811.7,146.0 L815.6,142.0 L825.2,135.5 L834.8,130.0 L842.4,125.5 L849.1,123.5 L858.7,123.0 L866.0,122.0 L873.8,120.5 L884.1,118.5 L897.9,110.5 L911.7,100.5 L922.0,96.5 L932.4,96.2 L941.0,98.4 L952.5,100.3 L960.2,104.2 L969.7,108.0 L979.3,111.8 L990.8,115.6 L998.4,116.6 L1013.8,116.0 L1025.3,114.3 L1036.7,112.6 L1048.2,112.4 L1059.7,112.4 L1073.1,113.0 L1080.8,109.0 L1078.9,101.3 L1084.6,96.5 L1092.3,94.6 L1100.0,96.5 L1105.7,91.7 L1107.6,86.0 L1113.3,82.1 L1122.5,83.1 L1130.2,77.4 L1137.8,76.4 L1146.5,71.6 L1146.5,61.1 L1152.2,53.4 L1160.8,48.6 L1164.0,46.0" fill="none" stroke="#f7a21b" stroke-width="6.2" stroke-linejoin="round" stroke-linecap="round"/>
<path d="M1360.0,62.0 L1376.0,63.5 L1394.0,64.5 L1390.0,69.5 L1373.0,70.5 L1363.0,67.5 Z" fill="#f7a21b" stroke="#f7a21b" stroke-width="1.5" stroke-linejoin="round"/>
<path d="M813.0,209.5 L819.8,209.1 L829.0,208.6 L840.5,204.5 L848.5,201.0 L851.0,193.4 L856.8,191.5 L862.5,195.3 L864.4,203.0 L864.4,212.6 L868.3,222.2 L872.1,231.8 L877.9,239.5 L881.7,245.2 L883.6,251.0 L877.9,254.8 L872.1,256.7 L870.2,262.5 L868.3,270.1 L866.3,275.9 L871.9,284.2 L874.6,290.9 L867.9,296.3 L871.9,304.3 L877.3,309.7 L874.6,315.0 L863.9,317.7 L858.5,320.4 L858.3,330.0 L867.0,333.0 L873.5,337.0 L871.0,341.0 L862.0,345.0 L864.0,349.0 L871.0,352.0 L873.0,356.0 L870.5,362.0 L869.8,370.0 M844.0,354.0 L848.0,356.0 L852.0,359.5 L856.0,363.0 L860.0,366.0 M883.6,251.0 L885.5,251.0 L889.4,258.6 L889.4,266.3 L895.1,262.5 L900.9,256.7 L906.6,254.8 L914.3,256.7 L918.1,252.9 L925.5,250.5 L933.6,249.4 L947.0,249.4 L960.0,252.8 L970.7,259.5 L981.5,270.2 L989.5,283.7 L997.6,294.4 L1000.0,300.0 L996.0,308.0 L994.5,311.0 L998.6,314.8 L993.2,320.1 L986.5,324.1 L985.1,328.2 L987.8,332.2 L982.5,337.6 L977.1,342.9 L975.8,348.3 L978.4,356.0 M1044.2,308.0 L1054.9,305.4 L1057.5,301.4 L1068.2,296.0 L1076.2,292.0 L1087.0,284.0 L1095.0,276.0 L1099.0,265.2 L1103.0,254.5 L1105.7,243.8 L1107.4,233.0 L1113.2,228.4 L1119.0,222.6 L1124.9,214.6 L1137.3,207.1 L1149.8,202.1 L1162.2,197.1 L1174.7,192.1 L1187.1,188.4 L1199.6,182.2 M1044.2,308.0 L1040.1,312.1 L1041.5,317.4 L1036.1,318.8 L1028.0,317.4 L1020.0,320.1 L1013.3,321.5 L1010.6,325.5 L1008.0,330.8 L1005.3,337.6 L1004.0,344.3 L1005.3,350.0 M1041.5,317.4 L1046.8,320.1 L1048.2,326.8 L1046.8,333.5 L1042.8,340.2 L1036.1,344.3 L1030.7,338.9 L1024.0,337.6 L1018.7,340.2 L1012.0,338.9 L1006.6,342.9 L1008.0,350.0 M1199.6,182.2 L1202.1,174.7 L1199.6,167.3 L1202.1,159.8 L1207.1,152.3 L1214.5,144.9 L1224.5,142.2 L1235.2,139.5 L1245.9,138.2 L1256.7,135.5 L1268.7,133.7 L1276.3,132.1 L1285.5,130.6 L1291.7,129.1 L1297.8,127.5 L1296.3,124.5 L1288.6,121.4 L1282.5,116.8 L1281.0,110.7 L1284.0,104.5 L1291.7,99.9 L1299.3,98.4 L1307.0,99.9 L1313.1,103.0 L1319.3,104.5 L1325.4,103.0 L1323.9,96.9 L1319.3,93.8 L1322.3,89.2 L1330.0,86.1 L1337.7,86.1 L1345.4,83.1 L1353.0,81.5 L1361.0,83.1 L1368.3,90.2 L1377.9,92.2 L1385.5,96.0 L1395.1,101.7 L1402.8,109.4 L1408.0,113.0 M1199.6,182.2 L1209.5,177.2 L1220.0,174.7 L1224.5,177.1 L1240.6,177.1 L1251.3,174.4 L1262.0,175.8 L1267.1,172.4 L1261.7,161.7 L1264.4,151.0 L1272.5,145.6 L1277.0,143.0 L1281.0,144.4 L1287.1,142.9 L1294.7,139.8 L1303.9,138.3 L1311.6,139.8 L1317.7,144.4 L1325.4,145.9 L1331.6,142.9 L1336.2,139.8 L1342.3,136.7 L1350.0,133.7 L1356.1,133.7 L1363.6,140.2 L1374.4,134.9 L1385.1,129.5 L1395.8,124.1 L1407.0,121.5 M1322.3,110.7 L1331.6,112.2 L1339.2,118.3 L1339.2,126.0 L1334.6,130.6 L1330.0,129.1 L1325.4,122.9 L1321.6,116.8 L1322.3,110.7 M1333.0,130.0 L1332.0,139.8 M1350.0,113.0 L1355.0,110.7 L1361.0,113.0 L1363.0,118.0 L1358.0,123.0 L1352.0,121.0 L1350.0,113.0" fill="none" stroke="#000" stroke-width="6.6" stroke-linejoin="round" stroke-linecap="round"/>
<path d="M983.0,334.0 L991.0,331.0 L1000.0,331.0 L1006.0,333.0 L1005.0,340.0 L1004.0,346.0 L1006.0,351.0 L984.0,352.0 L979.0,349.0 L980.0,342.0 Z" fill="#000"/>
<path d="M813.0,209.5 L819.8,209.1 L829.0,208.6 L840.5,204.5 L848.5,201.0 L851.0,193.4 L856.8,191.5 L862.5,195.3 L864.4,203.0 L864.4,212.6 L868.3,222.2 L872.1,231.8 L877.9,239.5 L881.7,245.2 L883.6,251.0 L877.9,254.8 L872.1,256.7 L870.2,262.5 L868.3,270.1 L866.3,275.9 L871.9,284.2 L874.6,290.9 L867.9,296.3 L871.9,304.3 L877.3,309.7 L874.6,315.0 L863.9,317.7 L858.5,320.4 L858.3,330.0 L867.0,333.0 L873.5,337.0 L871.0,341.0 L862.0,345.0 L864.0,349.0 L871.0,352.0 L873.0,356.0 L870.5,362.0 L869.8,370.0 M844.0,354.0 L848.0,356.0 L852.0,359.5 L856.0,363.0 L860.0,366.0 M883.6,251.0 L885.5,251.0 L889.4,258.6 L889.4,266.3 L895.1,262.5 L900.9,256.7 L906.6,254.8 L914.3,256.7 L918.1,252.9 L925.5,250.5 L933.6,249.4 L947.0,249.4 L960.0,252.8 L970.7,259.5 L981.5,270.2 L989.5,283.7 L997.6,294.4 L1000.0,300.0 L996.0,308.0 L994.5,311.0 L998.6,314.8 L993.2,320.1 L986.5,324.1 L985.1,328.2 L987.8,332.2 L982.5,337.6 L977.1,342.9 L975.8,348.3 L978.4,356.0 M1044.2,308.0 L1054.9,305.4 L1057.5,301.4 L1068.2,296.0 L1076.2,292.0 L1087.0,284.0 L1095.0,276.0 L1099.0,265.2 L1103.0,254.5 L1105.7,243.8 L1107.4,233.0 L1113.2,228.4 L1119.0,222.6 L1124.9,214.6 L1137.3,207.1 L1149.8,202.1 L1162.2,197.1 L1174.7,192.1 L1187.1,188.4 L1199.6,182.2 M1044.2,308.0 L1040.1,312.1 L1041.5,317.4 L1036.1,318.8 L1028.0,317.4 L1020.0,320.1 L1013.3,321.5 L1010.6,325.5 L1008.0,330.8 L1005.3,337.6 L1004.0,344.3 L1005.3,350.0 M1041.5,317.4 L1046.8,320.1 L1048.2,326.8 L1046.8,333.5 L1042.8,340.2 L1036.1,344.3 L1030.7,338.9 L1024.0,337.6 L1018.7,340.2 L1012.0,338.9 L1006.6,342.9 L1008.0,350.0 M1199.6,182.2 L1202.1,174.7 L1199.6,167.3 L1202.1,159.8 L1207.1,152.3 L1214.5,144.9 L1224.5,142.2 L1235.2,139.5 L1245.9,138.2 L1256.7,135.5 L1268.7,133.7 L1276.3,132.1 L1285.5,130.6 L1291.7,129.1 L1297.8,127.5 L1296.3,124.5 L1288.6,121.4 L1282.5,116.8 L1281.0,110.7 L1284.0,104.5 L1291.7,99.9 L1299.3,98.4 L1307.0,99.9 L1313.1,103.0 L1319.3,104.5 L1325.4,103.0 L1323.9,96.9 L1319.3,93.8 L1322.3,89.2 L1330.0,86.1 L1337.7,86.1 L1345.4,83.1 L1353.0,81.5 L1361.0,83.1 L1368.3,90.2 L1377.9,92.2 L1385.5,96.0 L1395.1,101.7 L1402.8,109.4 L1408.0,113.0 M1199.6,182.2 L1209.5,177.2 L1220.0,174.7 L1224.5,177.1 L1240.6,177.1 L1251.3,174.4 L1262.0,175.8 L1267.1,172.4 L1261.7,161.7 L1264.4,151.0 L1272.5,145.6 L1277.0,143.0 L1281.0,144.4 L1287.1,142.9 L1294.7,139.8 L1303.9,138.3 L1311.6,139.8 L1317.7,144.4 L1325.4,145.9 L1331.6,142.9 L1336.2,139.8 L1342.3,136.7 L1350.0,133.7 L1356.1,133.7 L1363.6,140.2 L1374.4,134.9 L1385.1,129.5 L1395.8,124.1 L1407.0,121.5 M1322.3,110.7 L1331.6,112.2 L1339.2,118.3 L1339.2,126.0 L1334.6,130.6 L1330.0,129.1 L1325.4,122.9 L1321.6,116.8 L1322.3,110.7 M1333.0,130.0 L1332.0,139.8 M1350.0,113.0 L1355.0,110.7 L1361.0,113.0 L1363.0,118.0 L1358.0,123.0 L1352.0,121.0 L1350.0,113.0" fill="none" stroke="#000" stroke-width="8.4" stroke-dasharray="0 6" stroke-linecap="round"/>
<path d="M1102.3,227.4 L1105.4,236.3 L1114.9,236.5 L1107.3,242.2 L1110.1,251.3 L1102.3,245.9 L1094.5,251.3 L1097.3,242.2 L1089.7,236.5 L1099.2,236.3 Z" fill="#3a50a6"/>
<text class="nm" x="1121.8" y="253.7">Davis</text>
<text class="nm" x="914.8" y="316.4">AIS</text>
<text class="nm" x="1321.3" y="171.9">WIS</text>
</g>
<path d="M794.0,69.0 L804.3,67.3 L814.7,65.7 L825.0,64.2 L835.3,62.7 L845.7,61.2 L856.0,59.8 L866.3,58.5 L876.7,57.2 L887.0,56.0 L897.3,54.8 L907.7,53.7 L918.0,52.7 L928.3,51.7 L938.7,50.8 L949.0,49.9 L959.3,49.1 L969.7,48.3 L980.0,47.6 L990.3,46.9 L1000.7,46.3 L1011.0,45.8 L1021.3,45.3 L1031.7,44.9 L1042.0,44.5 L1052.3,44.2 L1062.7,44.0 L1073.0,43.8 L1083.3,43.6 L1093.7,43.5 L1104.0,43.5 L1114.3,43.5 L1124.7,43.6 L1135.0,43.8 L1145.3,44.0 L1155.7,44.2 L1166.0,44.5 L1176.3,44.9 L1186.7,45.3 L1197.0,45.8 L1207.3,46.3 L1217.7,46.9 L1228.0,47.6 L1238.3,48.3 L1248.7,49.1 L1259.0,49.9 L1269.3,50.8 L1279.7,51.7 L1290.0,52.7 L1300.3,53.7 L1310.7,54.8 L1321.0,56.0 L1331.3,57.2 L1341.7,58.5 L1352.0,59.8 L1362.3,61.2 L1372.7,62.7 L1383.0,64.2 L1393.3,65.7 L1403.7,67.3 L1414.0,69.0 L1364.2,369.8 L1355.5,368.5 L1346.9,367.2 L1338.2,366.0 L1329.5,364.8 L1320.8,363.6 L1312.2,362.5 L1303.5,361.5 L1294.8,360.5 L1286.1,359.5 L1277.5,358.6 L1268.8,357.7 L1260.1,356.9 L1251.4,356.1 L1242.8,355.3 L1234.1,354.7 L1225.4,354.0 L1216.8,353.4 L1208.1,352.8 L1199.4,352.3 L1190.7,351.8 L1182.1,351.4 L1173.4,351.0 L1164.7,350.7 L1156.0,350.4 L1147.4,350.2 L1138.7,350.0 L1130.0,349.8 L1121.3,349.7 L1112.7,349.6 L1104.0,349.6 L1095.3,349.6 L1086.7,349.7 L1078.0,349.8 L1069.3,350.0 L1060.6,350.2 L1052.0,350.4 L1043.3,350.7 L1034.6,351.0 L1025.9,351.4 L1017.3,351.8 L1008.6,352.3 L999.9,352.8 L991.2,353.4 L982.6,354.0 L973.9,354.7 L965.2,355.3 L956.6,356.1 L947.9,356.9 L939.2,357.7 L930.5,358.6 L921.9,359.5 L913.2,360.5 L904.5,361.5 L895.8,362.5 L887.2,363.6 L878.5,364.8 L869.8,366.0 L861.1,367.2 L852.5,368.5 L843.8,369.8 Z" fill="none" stroke="#000" stroke-width="4.2" stroke-linejoin="miter"/>
<path d="M918.0,52.7 L918.5,57.7 M947.9,356.9 L947.4,351.9 M1042.0,44.5 L1042.2,49.5 M1052.0,350.4 L1051.8,345.4 M1166.0,44.5 L1165.8,49.5 M1156.0,350.4 L1156.2,345.4 M1290.0,52.7 L1289.5,57.7 M1260.1,356.9 L1260.6,351.9 M806.5,144.2 L811.4,143.4 M1401.5,144.2 L1396.6,143.4 M818.9,219.4 L823.8,218.6 M1389.1,219.4 L1384.2,218.6 M831.4,294.6 L836.3,293.8 M1376.7,294.6 L1371.7,293.8" fill="none" stroke="#000" stroke-width="4"/>
<text class="tl" x="754" y="76" transform="rotate(-9.49 754 76)" text-anchor="middle" dominant-baseline="central">66°S</text>
<text class="tl" x="765" y="151" transform="rotate(-9.49 765 151)" text-anchor="middle" dominant-baseline="central">67°S</text>
<text class="tl" x="777" y="227" transform="rotate(-9.49 777 227)" text-anchor="middle" dominant-baseline="central">68°S</text>
<text class="tl" x="789" y="302" transform="rotate(-9.49 789 302)" text-anchor="middle" dominant-baseline="central">69°S</text>
<text class="tl" x="801" y="378" transform="rotate(-9.49 801 378)" text-anchor="middle" dominant-baseline="central">70°S</text>
<text class="tl" x="849" y="400" transform="rotate(-9.49 849 400)" text-anchor="middle" dominant-baseline="central">68<tspan class="sup" dy="-12">o</tspan><tspan dy="12">E</tspan></text>
<text class="tl" x="949.5" y="388" transform="rotate(-5.69 949.5 388)" text-anchor="middle" dominant-baseline="central">72<tspan class="sup" dy="-12">o</tspan><tspan dy="12">E</tspan></text>
<text class="tl" x="1052.3" y="380.5" transform="rotate(-1.90 1052.3 380.5)" text-anchor="middle" dominant-baseline="central">76<tspan class="sup" dy="-12">o</tspan><tspan dy="12">E</tspan></text>
<text class="tl" x="1155.2" y="379.5" transform="rotate(1.90 1155.2 379.5)" text-anchor="middle" dominant-baseline="central">80<tspan class="sup" dy="-12">o</tspan><tspan dy="12">E</tspan></text>
<text class="tl" x="1257.7" y="386" transform="rotate(5.69 1257.7 386)" text-anchor="middle" dominant-baseline="central">84<tspan class="sup" dy="-12">o</tspan><tspan dy="12">E</tspan></text>
<text class="tl" x="1359.8" y="400" transform="rotate(9.49 1359.8 400)" text-anchor="middle" dominant-baseline="central">88<tspan class="sup" dy="-12">o</tspan><tspan dy="12">E</tspan></text>
<rect x="173" y="443.5" width="434" height="34.5" fill="url(#cbg)" stroke="#111" stroke-width="1.4"/>
<text class="cb" x="173.0" y="518" text-anchor="middle">-0.1</text>
<line x1="281.5" y1="478" x2="281.5" y2="473" stroke="#111" stroke-width="1.4"/>
<text class="cb" x="281.5" y="518" text-anchor="middle">-0.05</text>
<line x1="390.0" y1="478" x2="390.0" y2="473" stroke="#111" stroke-width="1.4"/>
<text class="cb" x="390.0" y="518" text-anchor="middle">0</text>
<line x1="498.5" y1="478" x2="498.5" y2="473" stroke="#111" stroke-width="1.4"/>
<text class="cb" x="498.5" y="518" text-anchor="middle">0.05</text>
<text class="cb" x="607.0" y="518" text-anchor="middle">0.1</text>
<rect x="894" y="443.5" width="434" height="34.5" fill="url(#cbg)" stroke="#111" stroke-width="1.4"/>
<text class="cb" x="894.0" y="518" text-anchor="middle">-0.1</text>
<line x1="1002.5" y1="478" x2="1002.5" y2="473" stroke="#111" stroke-width="1.4"/>
<text class="cb" x="1002.5" y="518" text-anchor="middle">-0.05</text>
<line x1="1111.0" y1="478" x2="1111.0" y2="473" stroke="#111" stroke-width="1.4"/>
<text class="cb" x="1111.0" y="518" text-anchor="middle">0</text>
<line x1="1219.5" y1="478" x2="1219.5" y2="473" stroke="#111" stroke-width="1.4"/>
<text class="cb" x="1219.5" y="518" text-anchor="middle">0.05</text>
<text class="cb" x="1328.0" y="518" text-anchor="middle">0.1</text>
<text class="unit" x="374" y="427"><tspan font-size="24px" dy="-14">o</tspan><tspan dy="14">C</tspan></text>
<text class="unit" x="1090.7" y="427">psu</text>
</svg>
</body></html>
